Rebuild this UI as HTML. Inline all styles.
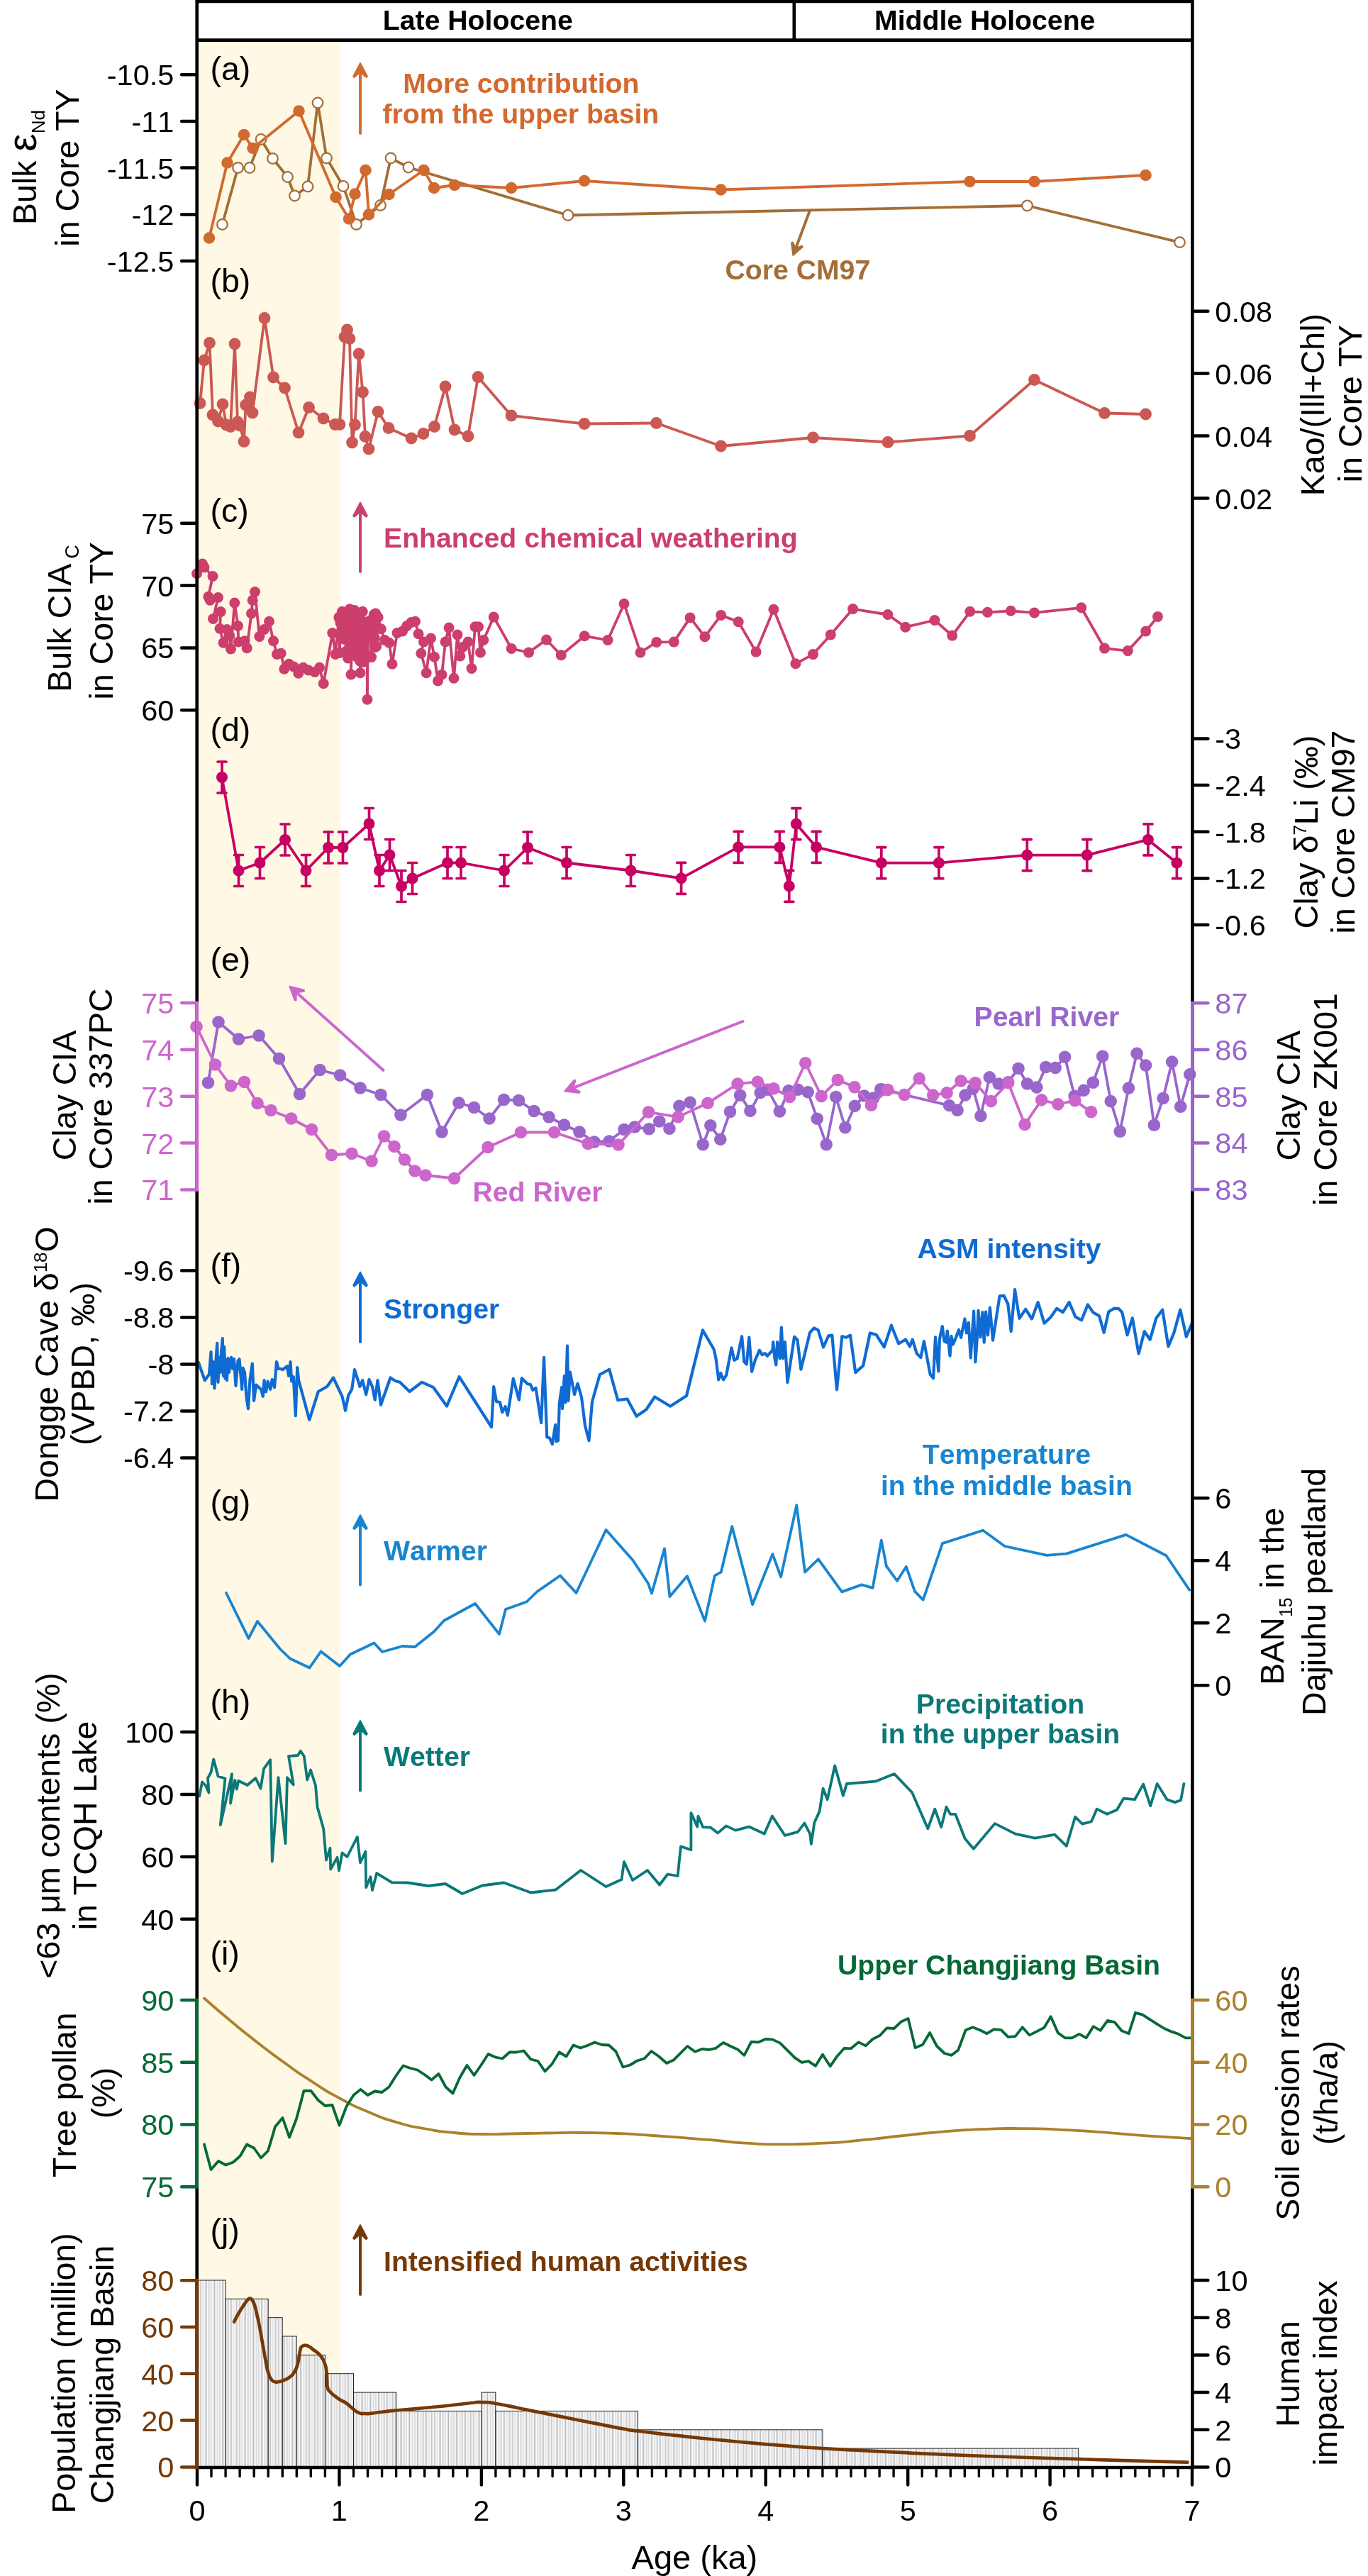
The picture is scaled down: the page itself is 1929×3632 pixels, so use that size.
<!DOCTYPE html>
<html><head><meta charset="utf-8"><title>Holocene records</title>
<style>html,body{margin:0;padding:0;background:#fff;}svg{display:block;will-change:transform;}text{font-family:"Liberation Sans",sans-serif;font-kerning:none;}</style>
</head><body>
<svg width="1929" height="3632" viewBox="0 0 1929 3632">
<rect x="0" y="0" width="1929" height="3632" fill="#fff"/>
<rect x="277.7" y="56.6" width="202.3" height="3422.4" fill="#FEF8E4"/>
<defs><pattern id="hat" width="2.2" height="8" patternUnits="userSpaceOnUse"><rect width="2.2" height="8" fill="#fafafc"/><rect x="0.8" width="0.45" height="8" fill="#949494"/></pattern></defs>
<rect x="278.0" y="3215.0" width="40.1" height="263.5" fill="url(#hat)" stroke="#1a1a1a" stroke-width="0.95"/>
<rect x="318.1" y="3241.3" width="60.1" height="237.2" fill="url(#hat)" stroke="#1a1a1a" stroke-width="0.95"/>
<rect x="378.2" y="3267.7" width="20.0" height="210.8" fill="url(#hat)" stroke="#1a1a1a" stroke-width="0.95"/>
<rect x="398.3" y="3294.0" width="20.0" height="184.5" fill="url(#hat)" stroke="#1a1a1a" stroke-width="0.95"/>
<rect x="418.3" y="3320.4" width="40.1" height="158.1" fill="url(#hat)" stroke="#1a1a1a" stroke-width="0.95"/>
<rect x="458.4" y="3346.7" width="40.1" height="131.8" fill="url(#hat)" stroke="#1a1a1a" stroke-width="0.95"/>
<rect x="498.5" y="3373.1" width="60.1" height="105.4" fill="url(#hat)" stroke="#1a1a1a" stroke-width="0.95"/>
<rect x="558.6" y="3399.4" width="120.3" height="79.1" fill="url(#hat)" stroke="#1a1a1a" stroke-width="0.95"/>
<rect x="678.9" y="3373.1" width="20.0" height="105.4" fill="url(#hat)" stroke="#1a1a1a" stroke-width="0.95"/>
<rect x="698.9" y="3399.4" width="200.4" height="79.1" fill="url(#hat)" stroke="#1a1a1a" stroke-width="0.95"/>
<rect x="899.3" y="3425.8" width="260.6" height="52.7" fill="url(#hat)" stroke="#1a1a1a" stroke-width="0.95"/>
<rect x="1159.9" y="3452.1" width="360.8" height="26.4" fill="url(#hat)" stroke="#1a1a1a" stroke-width="0.95"/>
<polyline points="313.5,316.5 335.5,236.5 352.0,236.5 368.0,196.5 384.5,223.5 405.5,249.5 415.5,276.0 434.0,263.0 448.0,145.0 460.5,223.0 484.0,262.5 502.5,316.5 536.5,289.5 551.0,223.0 576.0,236.0 801.0,303.5 1448.5,290.0 1663.5,341.6" fill="none" stroke="#A46E36" stroke-width="3.8" stroke-linejoin="round" stroke-linecap="round" />
<circle cx="313.5" cy="316.5" r="7.3" fill="#fff" stroke="#A46E36" stroke-width="2.2"/>
<circle cx="335.5" cy="236.5" r="7.3" fill="#fff" stroke="#A46E36" stroke-width="2.2"/>
<circle cx="352.0" cy="236.5" r="7.3" fill="#fff" stroke="#A46E36" stroke-width="2.2"/>
<circle cx="368.0" cy="196.5" r="7.3" fill="#fff" stroke="#A46E36" stroke-width="2.2"/>
<circle cx="384.5" cy="223.5" r="7.3" fill="#fff" stroke="#A46E36" stroke-width="2.2"/>
<circle cx="405.5" cy="249.5" r="7.3" fill="#fff" stroke="#A46E36" stroke-width="2.2"/>
<circle cx="415.5" cy="276.0" r="7.3" fill="#fff" stroke="#A46E36" stroke-width="2.2"/>
<circle cx="434.0" cy="263.0" r="7.3" fill="#fff" stroke="#A46E36" stroke-width="2.2"/>
<circle cx="448.0" cy="145.0" r="7.3" fill="#fff" stroke="#A46E36" stroke-width="2.2"/>
<circle cx="460.5" cy="223.0" r="7.3" fill="#fff" stroke="#A46E36" stroke-width="2.2"/>
<circle cx="484.0" cy="262.5" r="7.3" fill="#fff" stroke="#A46E36" stroke-width="2.2"/>
<circle cx="502.5" cy="316.5" r="7.3" fill="#fff" stroke="#A46E36" stroke-width="2.2"/>
<circle cx="536.5" cy="289.5" r="7.3" fill="#fff" stroke="#A46E36" stroke-width="2.2"/>
<circle cx="551.0" cy="223.0" r="7.3" fill="#fff" stroke="#A46E36" stroke-width="2.2"/>
<circle cx="576.0" cy="236.0" r="7.3" fill="#fff" stroke="#A46E36" stroke-width="2.2"/>
<circle cx="801.0" cy="303.5" r="7.3" fill="#fff" stroke="#A46E36" stroke-width="2.2"/>
<circle cx="1448.5" cy="290.0" r="7.3" fill="#fff" stroke="#A46E36" stroke-width="2.2"/>
<circle cx="1663.5" cy="341.6" r="7.3" fill="#fff" stroke="#A46E36" stroke-width="2.2"/>
<polyline points="295.0,335.5 320.5,229.5 344.0,190.0 356.5,209.0 421.5,156.5 473.5,278.0 492.0,308.5 500.5,273.5 515.5,240.0 520.0,302.5 548.5,274.0 597.5,240.0 612.0,265.0 641.0,261.0 721.0,265.0 824.0,255.0 1016.5,267.5 1367.5,256.0 1458.5,256.0 1615.5,247.0" fill="none" stroke="#D2692F" stroke-width="3.8" stroke-linejoin="round" stroke-linecap="round" />
<circle cx="295.0" cy="335.5" r="8.3" fill="#D2692F"/>
<circle cx="320.5" cy="229.5" r="8.3" fill="#D2692F"/>
<circle cx="344.0" cy="190.0" r="8.3" fill="#D2692F"/>
<circle cx="356.5" cy="209.0" r="8.3" fill="#D2692F"/>
<circle cx="421.5" cy="156.5" r="8.3" fill="#D2692F"/>
<circle cx="473.5" cy="278.0" r="8.3" fill="#D2692F"/>
<circle cx="492.0" cy="308.5" r="8.3" fill="#D2692F"/>
<circle cx="500.5" cy="273.5" r="8.3" fill="#D2692F"/>
<circle cx="515.5" cy="240.0" r="8.3" fill="#D2692F"/>
<circle cx="520.0" cy="302.5" r="8.3" fill="#D2692F"/>
<circle cx="548.5" cy="274.0" r="8.3" fill="#D2692F"/>
<circle cx="597.5" cy="240.0" r="8.3" fill="#D2692F"/>
<circle cx="612.0" cy="265.0" r="8.3" fill="#D2692F"/>
<circle cx="641.0" cy="261.0" r="8.3" fill="#D2692F"/>
<circle cx="721.0" cy="265.0" r="8.3" fill="#D2692F"/>
<circle cx="824.0" cy="255.0" r="8.3" fill="#D2692F"/>
<circle cx="1016.5" cy="267.5" r="8.3" fill="#D2692F"/>
<circle cx="1367.5" cy="256.0" r="8.3" fill="#D2692F"/>
<circle cx="1458.5" cy="256.0" r="8.3" fill="#D2692F"/>
<circle cx="1615.5" cy="247.0" r="8.3" fill="#D2692F"/>
<polyline points="282.0,568.5 288.0,508.0 295.5,483.5 300.0,585.0 307.5,594.0 314.0,570.0 319.0,599.0 325.0,601.5 331.0,485.0 335.0,595.0 338.5,600.0 344.0,622.5 346.5,571.0 352.5,560.0 356.0,582.0 373.0,448.5 385.5,532.0 401.5,547.0 421.0,610.0 435.5,574.5 456.0,590.0 472.5,598.5 479.0,598.5 486.0,475.0 489.5,465.0 493.0,477.5 496.5,624.0 500.5,599.0 506.0,499.0 511.5,553.0 515.0,615.5 520.0,633.0 533.0,580.5 548.0,603.5 580.0,618.0 597.0,611.5 612.5,601.5 628.0,545.0 641.0,606.0 660.0,615.0 674.0,531.5 721.0,586.0 824.0,597.5 925.5,596.5 1016.5,629.0 1146.5,617.0 1252.0,623.5 1367.5,614.5 1458.5,535.5 1557.5,582.5 1615.5,584.0" fill="none" stroke="#CB5853" stroke-width="3.8" stroke-linejoin="round" stroke-linecap="round" />
<circle cx="282.0" cy="568.5" r="8.4" fill="#CB5853"/>
<circle cx="288.0" cy="508.0" r="8.4" fill="#CB5853"/>
<circle cx="295.5" cy="483.5" r="8.4" fill="#CB5853"/>
<circle cx="300.0" cy="585.0" r="8.4" fill="#CB5853"/>
<circle cx="307.5" cy="594.0" r="8.4" fill="#CB5853"/>
<circle cx="314.0" cy="570.0" r="8.4" fill="#CB5853"/>
<circle cx="319.0" cy="599.0" r="8.4" fill="#CB5853"/>
<circle cx="325.0" cy="601.5" r="8.4" fill="#CB5853"/>
<circle cx="331.0" cy="485.0" r="8.4" fill="#CB5853"/>
<circle cx="335.0" cy="595.0" r="8.4" fill="#CB5853"/>
<circle cx="338.5" cy="600.0" r="8.4" fill="#CB5853"/>
<circle cx="344.0" cy="622.5" r="8.4" fill="#CB5853"/>
<circle cx="346.5" cy="571.0" r="8.4" fill="#CB5853"/>
<circle cx="352.5" cy="560.0" r="8.4" fill="#CB5853"/>
<circle cx="356.0" cy="582.0" r="8.4" fill="#CB5853"/>
<circle cx="373.0" cy="448.5" r="8.4" fill="#CB5853"/>
<circle cx="385.5" cy="532.0" r="8.4" fill="#CB5853"/>
<circle cx="401.5" cy="547.0" r="8.4" fill="#CB5853"/>
<circle cx="421.0" cy="610.0" r="8.4" fill="#CB5853"/>
<circle cx="435.5" cy="574.5" r="8.4" fill="#CB5853"/>
<circle cx="456.0" cy="590.0" r="8.4" fill="#CB5853"/>
<circle cx="472.5" cy="598.5" r="8.4" fill="#CB5853"/>
<circle cx="479.0" cy="598.5" r="8.4" fill="#CB5853"/>
<circle cx="486.0" cy="475.0" r="8.4" fill="#CB5853"/>
<circle cx="489.5" cy="465.0" r="8.4" fill="#CB5853"/>
<circle cx="493.0" cy="477.5" r="8.4" fill="#CB5853"/>
<circle cx="496.5" cy="624.0" r="8.4" fill="#CB5853"/>
<circle cx="500.5" cy="599.0" r="8.4" fill="#CB5853"/>
<circle cx="506.0" cy="499.0" r="8.4" fill="#CB5853"/>
<circle cx="511.5" cy="553.0" r="8.4" fill="#CB5853"/>
<circle cx="515.0" cy="615.5" r="8.4" fill="#CB5853"/>
<circle cx="520.0" cy="633.0" r="8.4" fill="#CB5853"/>
<circle cx="533.0" cy="580.5" r="8.4" fill="#CB5853"/>
<circle cx="548.0" cy="603.5" r="8.4" fill="#CB5853"/>
<circle cx="580.0" cy="618.0" r="8.4" fill="#CB5853"/>
<circle cx="597.0" cy="611.5" r="8.4" fill="#CB5853"/>
<circle cx="612.5" cy="601.5" r="8.4" fill="#CB5853"/>
<circle cx="628.0" cy="545.0" r="8.4" fill="#CB5853"/>
<circle cx="641.0" cy="606.0" r="8.4" fill="#CB5853"/>
<circle cx="660.0" cy="615.0" r="8.4" fill="#CB5853"/>
<circle cx="674.0" cy="531.5" r="8.4" fill="#CB5853"/>
<circle cx="721.0" cy="586.0" r="8.4" fill="#CB5853"/>
<circle cx="824.0" cy="597.5" r="8.4" fill="#CB5853"/>
<circle cx="925.5" cy="596.5" r="8.4" fill="#CB5853"/>
<circle cx="1016.5" cy="629.0" r="8.4" fill="#CB5853"/>
<circle cx="1146.5" cy="617.0" r="8.4" fill="#CB5853"/>
<circle cx="1252.0" cy="623.5" r="8.4" fill="#CB5853"/>
<circle cx="1367.5" cy="614.5" r="8.4" fill="#CB5853"/>
<circle cx="1458.5" cy="535.5" r="8.4" fill="#CB5853"/>
<circle cx="1557.5" cy="582.5" r="8.4" fill="#CB5853"/>
<circle cx="1615.5" cy="584.0" r="8.4" fill="#CB5853"/>
<polyline points="277.5,808.8 285.5,795.0 288.0,800.0 300.0,812.5 293.8,841.2 296.2,846.2 307.5,842.5 300.5,872.5 311.2,862.5 310.0,886.2 315.0,906.2 320.0,887.5 323.8,896.2 325.5,915.0 330.8,850.0 335.5,882.5 336.2,905.0 345.0,903.8 348.2,913.8 354.5,865.0 356.2,846.2 359.5,834.5 365.8,897.5 372.5,887.5 379.5,876.2 385.5,903.8 390.5,922.5 396.2,921.2 400.8,943.2 407.5,936.2 414.2,940.0 420.8,949.2 427.5,941.2 435.0,945.0 443.8,947.5 450.5,941.2 456.2,963.8 468.8,892.5 473.0,922.5 478.0,870.0 478.0,871.4 479.0,920.4 480.0,878.1 481.1,899.1 482.4,862.2 483.6,899.5 484.5,874.6 486.0,901.5 487.1,881.1 488.6,917.8 489.8,892.2 490.7,927.9 491.8,865.6 492.8,908.1 493.3,858.7 494.3,866.8 495.0,951.0 495.6,920.0 496.8,878.5 497.7,899.1 498.8,882.8 499.8,860.5 500.0,908.3 501.3,875.5 502.4,925.6 503.8,868.8 505.1,915.9 506.6,884.3 507.7,932.3 508.0,948.8 508.7,874.4 510.1,902.5 511.3,862.3 511.5,933.6 512.7,924.5 514.0,889.0 515.1,922.0 516.4,879.6 517.7,927.2 517.9,986.2 519.2,876.2 520.6,899.2 522.0,881.7 523.6,926.6 524.7,873.3 526.0,897.8 527.3,866.4 528.2,899.1 529.0,912.5 529.7,865.1 530.8,911.1 533.1,870.4 537.2,886.8 542.5,902.5 548.8,906.2 553.0,936.2 560.0,892.5 567.5,890.0 573.8,882.5 580.0,877.5 585.5,876.2 590.0,893.8 597.5,905.0 593.8,921.2 601.2,948.8 607.5,900.0 612.5,926.2 617.5,960.0 623.0,951.2 628.0,905.0 633.0,885.0 640.0,956.2 645.0,895.0 648.8,925.0 652.5,912.5 660.0,905.0 665.0,942.5 670.0,883.8 674.5,883.8 677.5,920.0 681.8,902.5 696.2,870.0 721.2,914.5 745.5,920.0 770.5,902.0 791.2,923.8 824.2,896.8 857.0,902.5 880.0,851.2 903.0,920.0 925.7,905.4 950.3,905.1 973.1,870.9 993.9,897.8 1016.7,867.4 1041.2,876.7 1066.1,919.1 1090.9,859.2 1121.9,935.8 1146.5,922.6 1171.3,894.9 1202.6,858.6 1251.8,866.5 1276.7,884.2 1317.9,874.5 1342.7,896.1 1367.8,862.3 1392.5,863.3 1425.3,861.3 1458.5,863.9 1524.7,856.8 1557.5,914.1 1590.3,917.6 1615.7,890.0 1632.5,869.4" fill="none" stroke="#CC3E6C" stroke-width="3.8" stroke-linejoin="round" stroke-linecap="round" />
<circle cx="277.5" cy="808.8" r="7.5" fill="#CC3E6C"/>
<circle cx="285.5" cy="795.0" r="7.5" fill="#CC3E6C"/>
<circle cx="288.0" cy="800.0" r="7.5" fill="#CC3E6C"/>
<circle cx="300.0" cy="812.5" r="7.5" fill="#CC3E6C"/>
<circle cx="293.8" cy="841.2" r="7.5" fill="#CC3E6C"/>
<circle cx="296.2" cy="846.2" r="7.5" fill="#CC3E6C"/>
<circle cx="307.5" cy="842.5" r="7.5" fill="#CC3E6C"/>
<circle cx="300.5" cy="872.5" r="7.5" fill="#CC3E6C"/>
<circle cx="311.2" cy="862.5" r="7.5" fill="#CC3E6C"/>
<circle cx="310.0" cy="886.2" r="7.5" fill="#CC3E6C"/>
<circle cx="315.0" cy="906.2" r="7.5" fill="#CC3E6C"/>
<circle cx="320.0" cy="887.5" r="7.5" fill="#CC3E6C"/>
<circle cx="323.8" cy="896.2" r="7.5" fill="#CC3E6C"/>
<circle cx="325.5" cy="915.0" r="7.5" fill="#CC3E6C"/>
<circle cx="330.8" cy="850.0" r="7.5" fill="#CC3E6C"/>
<circle cx="335.5" cy="882.5" r="7.5" fill="#CC3E6C"/>
<circle cx="336.2" cy="905.0" r="7.5" fill="#CC3E6C"/>
<circle cx="345.0" cy="903.8" r="7.5" fill="#CC3E6C"/>
<circle cx="348.2" cy="913.8" r="7.5" fill="#CC3E6C"/>
<circle cx="354.5" cy="865.0" r="7.5" fill="#CC3E6C"/>
<circle cx="356.2" cy="846.2" r="7.5" fill="#CC3E6C"/>
<circle cx="359.5" cy="834.5" r="7.5" fill="#CC3E6C"/>
<circle cx="365.8" cy="897.5" r="7.5" fill="#CC3E6C"/>
<circle cx="372.5" cy="887.5" r="7.5" fill="#CC3E6C"/>
<circle cx="379.5" cy="876.2" r="7.5" fill="#CC3E6C"/>
<circle cx="385.5" cy="903.8" r="7.5" fill="#CC3E6C"/>
<circle cx="390.5" cy="922.5" r="7.5" fill="#CC3E6C"/>
<circle cx="396.2" cy="921.2" r="7.5" fill="#CC3E6C"/>
<circle cx="400.8" cy="943.2" r="7.5" fill="#CC3E6C"/>
<circle cx="407.5" cy="936.2" r="7.5" fill="#CC3E6C"/>
<circle cx="414.2" cy="940.0" r="7.5" fill="#CC3E6C"/>
<circle cx="420.8" cy="949.2" r="7.5" fill="#CC3E6C"/>
<circle cx="427.5" cy="941.2" r="7.5" fill="#CC3E6C"/>
<circle cx="435.0" cy="945.0" r="7.5" fill="#CC3E6C"/>
<circle cx="443.8" cy="947.5" r="7.5" fill="#CC3E6C"/>
<circle cx="450.5" cy="941.2" r="7.5" fill="#CC3E6C"/>
<circle cx="456.2" cy="963.8" r="7.5" fill="#CC3E6C"/>
<circle cx="468.8" cy="892.5" r="7.5" fill="#CC3E6C"/>
<circle cx="473.0" cy="922.5" r="7.5" fill="#CC3E6C"/>
<circle cx="478.0" cy="870.0" r="7.5" fill="#CC3E6C"/>
<circle cx="478.0" cy="871.4" r="7.5" fill="#CC3E6C"/>
<circle cx="479.0" cy="920.4" r="7.5" fill="#CC3E6C"/>
<circle cx="480.0" cy="878.1" r="7.5" fill="#CC3E6C"/>
<circle cx="481.1" cy="899.1" r="7.5" fill="#CC3E6C"/>
<circle cx="482.4" cy="862.2" r="7.5" fill="#CC3E6C"/>
<circle cx="483.6" cy="899.5" r="7.5" fill="#CC3E6C"/>
<circle cx="484.5" cy="874.6" r="7.5" fill="#CC3E6C"/>
<circle cx="486.0" cy="901.5" r="7.5" fill="#CC3E6C"/>
<circle cx="487.1" cy="881.1" r="7.5" fill="#CC3E6C"/>
<circle cx="488.6" cy="917.8" r="7.5" fill="#CC3E6C"/>
<circle cx="489.8" cy="892.2" r="7.5" fill="#CC3E6C"/>
<circle cx="490.7" cy="927.9" r="7.5" fill="#CC3E6C"/>
<circle cx="491.8" cy="865.6" r="7.5" fill="#CC3E6C"/>
<circle cx="492.8" cy="908.1" r="7.5" fill="#CC3E6C"/>
<circle cx="493.3" cy="858.7" r="7.5" fill="#CC3E6C"/>
<circle cx="494.3" cy="866.8" r="7.5" fill="#CC3E6C"/>
<circle cx="495.0" cy="951.0" r="7.5" fill="#CC3E6C"/>
<circle cx="495.6" cy="920.0" r="7.5" fill="#CC3E6C"/>
<circle cx="496.8" cy="878.5" r="7.5" fill="#CC3E6C"/>
<circle cx="497.7" cy="899.1" r="7.5" fill="#CC3E6C"/>
<circle cx="498.8" cy="882.8" r="7.5" fill="#CC3E6C"/>
<circle cx="499.8" cy="860.5" r="7.5" fill="#CC3E6C"/>
<circle cx="500.0" cy="908.3" r="7.5" fill="#CC3E6C"/>
<circle cx="501.3" cy="875.5" r="7.5" fill="#CC3E6C"/>
<circle cx="502.4" cy="925.6" r="7.5" fill="#CC3E6C"/>
<circle cx="503.8" cy="868.8" r="7.5" fill="#CC3E6C"/>
<circle cx="505.1" cy="915.9" r="7.5" fill="#CC3E6C"/>
<circle cx="506.6" cy="884.3" r="7.5" fill="#CC3E6C"/>
<circle cx="507.7" cy="932.3" r="7.5" fill="#CC3E6C"/>
<circle cx="508.0" cy="948.8" r="7.5" fill="#CC3E6C"/>
<circle cx="508.7" cy="874.4" r="7.5" fill="#CC3E6C"/>
<circle cx="510.1" cy="902.5" r="7.5" fill="#CC3E6C"/>
<circle cx="511.3" cy="862.3" r="7.5" fill="#CC3E6C"/>
<circle cx="511.5" cy="933.6" r="7.5" fill="#CC3E6C"/>
<circle cx="512.7" cy="924.5" r="7.5" fill="#CC3E6C"/>
<circle cx="514.0" cy="889.0" r="7.5" fill="#CC3E6C"/>
<circle cx="515.1" cy="922.0" r="7.5" fill="#CC3E6C"/>
<circle cx="516.4" cy="879.6" r="7.5" fill="#CC3E6C"/>
<circle cx="517.7" cy="927.2" r="7.5" fill="#CC3E6C"/>
<circle cx="517.9" cy="986.2" r="7.5" fill="#CC3E6C"/>
<circle cx="519.2" cy="876.2" r="7.5" fill="#CC3E6C"/>
<circle cx="520.6" cy="899.2" r="7.5" fill="#CC3E6C"/>
<circle cx="522.0" cy="881.7" r="7.5" fill="#CC3E6C"/>
<circle cx="523.6" cy="926.6" r="7.5" fill="#CC3E6C"/>
<circle cx="524.7" cy="873.3" r="7.5" fill="#CC3E6C"/>
<circle cx="526.0" cy="897.8" r="7.5" fill="#CC3E6C"/>
<circle cx="527.3" cy="866.4" r="7.5" fill="#CC3E6C"/>
<circle cx="528.2" cy="899.1" r="7.5" fill="#CC3E6C"/>
<circle cx="529.0" cy="912.5" r="7.5" fill="#CC3E6C"/>
<circle cx="529.7" cy="865.1" r="7.5" fill="#CC3E6C"/>
<circle cx="530.8" cy="911.1" r="7.5" fill="#CC3E6C"/>
<circle cx="533.1" cy="870.4" r="7.5" fill="#CC3E6C"/>
<circle cx="537.2" cy="886.8" r="7.5" fill="#CC3E6C"/>
<circle cx="542.5" cy="902.5" r="7.5" fill="#CC3E6C"/>
<circle cx="548.8" cy="906.2" r="7.5" fill="#CC3E6C"/>
<circle cx="553.0" cy="936.2" r="7.5" fill="#CC3E6C"/>
<circle cx="560.0" cy="892.5" r="7.5" fill="#CC3E6C"/>
<circle cx="567.5" cy="890.0" r="7.5" fill="#CC3E6C"/>
<circle cx="573.8" cy="882.5" r="7.5" fill="#CC3E6C"/>
<circle cx="580.0" cy="877.5" r="7.5" fill="#CC3E6C"/>
<circle cx="585.5" cy="876.2" r="7.5" fill="#CC3E6C"/>
<circle cx="590.0" cy="893.8" r="7.5" fill="#CC3E6C"/>
<circle cx="597.5" cy="905.0" r="7.5" fill="#CC3E6C"/>
<circle cx="593.8" cy="921.2" r="7.5" fill="#CC3E6C"/>
<circle cx="601.2" cy="948.8" r="7.5" fill="#CC3E6C"/>
<circle cx="607.5" cy="900.0" r="7.5" fill="#CC3E6C"/>
<circle cx="612.5" cy="926.2" r="7.5" fill="#CC3E6C"/>
<circle cx="617.5" cy="960.0" r="7.5" fill="#CC3E6C"/>
<circle cx="623.0" cy="951.2" r="7.5" fill="#CC3E6C"/>
<circle cx="628.0" cy="905.0" r="7.5" fill="#CC3E6C"/>
<circle cx="633.0" cy="885.0" r="7.5" fill="#CC3E6C"/>
<circle cx="640.0" cy="956.2" r="7.5" fill="#CC3E6C"/>
<circle cx="645.0" cy="895.0" r="7.5" fill="#CC3E6C"/>
<circle cx="648.8" cy="925.0" r="7.5" fill="#CC3E6C"/>
<circle cx="652.5" cy="912.5" r="7.5" fill="#CC3E6C"/>
<circle cx="660.0" cy="905.0" r="7.5" fill="#CC3E6C"/>
<circle cx="665.0" cy="942.5" r="7.5" fill="#CC3E6C"/>
<circle cx="670.0" cy="883.8" r="7.5" fill="#CC3E6C"/>
<circle cx="674.5" cy="883.8" r="7.5" fill="#CC3E6C"/>
<circle cx="677.5" cy="920.0" r="7.5" fill="#CC3E6C"/>
<circle cx="681.8" cy="902.5" r="7.5" fill="#CC3E6C"/>
<circle cx="696.2" cy="870.0" r="7.5" fill="#CC3E6C"/>
<circle cx="721.2" cy="914.5" r="7.5" fill="#CC3E6C"/>
<circle cx="745.5" cy="920.0" r="7.5" fill="#CC3E6C"/>
<circle cx="770.5" cy="902.0" r="7.5" fill="#CC3E6C"/>
<circle cx="791.2" cy="923.8" r="7.5" fill="#CC3E6C"/>
<circle cx="824.2" cy="896.8" r="7.5" fill="#CC3E6C"/>
<circle cx="857.0" cy="902.5" r="7.5" fill="#CC3E6C"/>
<circle cx="880.0" cy="851.2" r="7.5" fill="#CC3E6C"/>
<circle cx="903.0" cy="920.0" r="7.5" fill="#CC3E6C"/>
<circle cx="925.7" cy="905.4" r="7.5" fill="#CC3E6C"/>
<circle cx="950.3" cy="905.1" r="7.5" fill="#CC3E6C"/>
<circle cx="973.1" cy="870.9" r="7.5" fill="#CC3E6C"/>
<circle cx="993.9" cy="897.8" r="7.5" fill="#CC3E6C"/>
<circle cx="1016.7" cy="867.4" r="7.5" fill="#CC3E6C"/>
<circle cx="1041.2" cy="876.7" r="7.5" fill="#CC3E6C"/>
<circle cx="1066.1" cy="919.1" r="7.5" fill="#CC3E6C"/>
<circle cx="1090.9" cy="859.2" r="7.5" fill="#CC3E6C"/>
<circle cx="1121.9" cy="935.8" r="7.5" fill="#CC3E6C"/>
<circle cx="1146.5" cy="922.6" r="7.5" fill="#CC3E6C"/>
<circle cx="1171.3" cy="894.9" r="7.5" fill="#CC3E6C"/>
<circle cx="1202.6" cy="858.6" r="7.5" fill="#CC3E6C"/>
<circle cx="1251.8" cy="866.5" r="7.5" fill="#CC3E6C"/>
<circle cx="1276.7" cy="884.2" r="7.5" fill="#CC3E6C"/>
<circle cx="1317.9" cy="874.5" r="7.5" fill="#CC3E6C"/>
<circle cx="1342.7" cy="896.1" r="7.5" fill="#CC3E6C"/>
<circle cx="1367.8" cy="862.3" r="7.5" fill="#CC3E6C"/>
<circle cx="1392.5" cy="863.3" r="7.5" fill="#CC3E6C"/>
<circle cx="1425.3" cy="861.3" r="7.5" fill="#CC3E6C"/>
<circle cx="1458.5" cy="863.9" r="7.5" fill="#CC3E6C"/>
<circle cx="1524.7" cy="856.8" r="7.5" fill="#CC3E6C"/>
<circle cx="1557.5" cy="914.1" r="7.5" fill="#CC3E6C"/>
<circle cx="1590.3" cy="917.6" r="7.5" fill="#CC3E6C"/>
<circle cx="1615.7" cy="890.0" r="7.5" fill="#CC3E6C"/>
<circle cx="1632.5" cy="869.4" r="7.5" fill="#CC3E6C"/>
<path d="M313.0 1074.0 V1118.0 M307.0 1074.0 H319.0 M307.0 1118.0 H319.0" stroke="#C70063" stroke-width="3.7" stroke-linecap="round" fill="none"/>
<path d="M336.5 1205.5 V1249.5 M330.5 1205.5 H342.5 M330.5 1249.5 H342.5" stroke="#C70063" stroke-width="3.7" stroke-linecap="round" fill="none"/>
<path d="M366.5 1194.5 V1238.5 M360.5 1194.5 H372.5 M360.5 1238.5 H372.5" stroke="#C70063" stroke-width="3.7" stroke-linecap="round" fill="none"/>
<path d="M402.0 1162.0 V1206.0 M396.0 1162.0 H408.0 M396.0 1206.0 H408.0" stroke="#C70063" stroke-width="3.7" stroke-linecap="round" fill="none"/>
<path d="M431.5 1205.5 V1249.5 M425.5 1205.5 H437.5 M425.5 1249.5 H437.5" stroke="#C70063" stroke-width="3.7" stroke-linecap="round" fill="none"/>
<path d="M463.0 1173.0 V1217.0 M457.0 1173.0 H469.0 M457.0 1217.0 H469.0" stroke="#C70063" stroke-width="3.7" stroke-linecap="round" fill="none"/>
<path d="M483.5 1173.0 V1217.0 M477.5 1173.0 H489.5 M477.5 1217.0 H489.5" stroke="#C70063" stroke-width="3.7" stroke-linecap="round" fill="none"/>
<path d="M520.5 1139.5 V1183.5 M514.5 1139.5 H526.5 M514.5 1183.5 H526.5" stroke="#C70063" stroke-width="3.7" stroke-linecap="round" fill="none"/>
<path d="M535.0 1205.5 V1249.5 M529.0 1205.5 H541.0 M529.0 1249.5 H541.0" stroke="#C70063" stroke-width="3.7" stroke-linecap="round" fill="none"/>
<path d="M549.5 1183.5 V1227.5 M543.5 1183.5 H555.5 M543.5 1227.5 H555.5" stroke="#C70063" stroke-width="3.7" stroke-linecap="round" fill="none"/>
<path d="M566.0 1227.5 V1271.5 M560.0 1227.5 H572.0 M560.0 1271.5 H572.0" stroke="#C70063" stroke-width="3.7" stroke-linecap="round" fill="none"/>
<path d="M581.5 1216.5 V1260.5 M575.5 1216.5 H587.5 M575.5 1260.5 H587.5" stroke="#C70063" stroke-width="3.7" stroke-linecap="round" fill="none"/>
<path d="M631.0 1194.5 V1238.5 M625.0 1194.5 H637.0 M625.0 1238.5 H637.0" stroke="#C70063" stroke-width="3.7" stroke-linecap="round" fill="none"/>
<path d="M650.0 1194.5 V1238.5 M644.0 1194.5 H656.0 M644.0 1238.5 H656.0" stroke="#C70063" stroke-width="3.7" stroke-linecap="round" fill="none"/>
<path d="M711.0 1205.5 V1249.5 M705.0 1205.5 H717.0 M705.0 1249.5 H717.0" stroke="#C70063" stroke-width="3.7" stroke-linecap="round" fill="none"/>
<path d="M744.0 1173.0 V1217.0 M738.0 1173.0 H750.0 M738.0 1217.0 H750.0" stroke="#C70063" stroke-width="3.7" stroke-linecap="round" fill="none"/>
<path d="M799.0 1194.5 V1238.5 M793.0 1194.5 H805.0 M793.0 1238.5 H805.0" stroke="#C70063" stroke-width="3.7" stroke-linecap="round" fill="none"/>
<path d="M889.5 1205.5 V1249.5 M883.5 1205.5 H895.5 M883.5 1249.5 H895.5" stroke="#C70063" stroke-width="3.7" stroke-linecap="round" fill="none"/>
<path d="M960.6 1216.3 V1260.3 M954.6 1216.3 H966.6 M954.6 1260.3 H966.6" stroke="#C70063" stroke-width="3.7" stroke-linecap="round" fill="none"/>
<path d="M1041.1 1172.4 V1216.4 M1035.1 1172.4 H1047.1 M1035.1 1216.4 H1047.1" stroke="#C70063" stroke-width="3.7" stroke-linecap="round" fill="none"/>
<path d="M1099.4 1172.4 V1216.4 M1093.4 1172.4 H1105.4 M1093.4 1216.4 H1105.4" stroke="#C70063" stroke-width="3.7" stroke-linecap="round" fill="none"/>
<path d="M1112.8 1227.4 V1271.4 M1106.8 1227.4 H1118.8 M1106.8 1271.4 H1118.8" stroke="#C70063" stroke-width="3.7" stroke-linecap="round" fill="none"/>
<path d="M1122.8 1139.7 V1183.7 M1116.8 1139.7 H1128.8 M1116.8 1183.7 H1128.8" stroke="#C70063" stroke-width="3.7" stroke-linecap="round" fill="none"/>
<path d="M1151.1 1172.4 V1216.4 M1145.1 1172.4 H1157.1 M1145.1 1216.4 H1157.1" stroke="#C70063" stroke-width="3.7" stroke-linecap="round" fill="none"/>
<path d="M1242.8 1194.7 V1238.7 M1236.8 1194.7 H1248.8 M1236.8 1238.7 H1248.8" stroke="#C70063" stroke-width="3.7" stroke-linecap="round" fill="none"/>
<path d="M1323.9 1194.7 V1238.7 M1317.9 1194.7 H1329.9 M1317.9 1238.7 H1329.9" stroke="#C70063" stroke-width="3.7" stroke-linecap="round" fill="none"/>
<path d="M1448.3 1183.6 V1227.6 M1442.3 1183.6 H1454.3 M1442.3 1227.6 H1454.3" stroke="#C70063" stroke-width="3.7" stroke-linecap="round" fill="none"/>
<path d="M1532.8 1183.6 V1227.6 M1526.8 1183.6 H1538.8 M1526.8 1227.6 H1538.8" stroke="#C70063" stroke-width="3.7" stroke-linecap="round" fill="none"/>
<path d="M1618.9 1161.9 V1205.9 M1612.9 1161.9 H1624.9 M1612.9 1205.9 H1624.9" stroke="#C70063" stroke-width="3.7" stroke-linecap="round" fill="none"/>
<path d="M1659.4 1194.7 V1238.7 M1653.4 1194.7 H1665.4 M1653.4 1238.7 H1665.4" stroke="#C70063" stroke-width="3.7" stroke-linecap="round" fill="none"/>
<polyline points="313.0,1096.0 336.5,1227.5 366.5,1216.5 402.0,1184.0 431.5,1227.5 463.0,1195.0 483.5,1195.0 520.5,1161.5 535.0,1227.5 549.5,1205.5 566.0,1249.5 581.5,1238.5 631.0,1216.5 650.0,1216.5 711.0,1227.5 744.0,1195.0 799.0,1216.5 889.5,1227.5 960.6,1238.3 1041.1,1194.4 1099.4,1194.4 1112.8,1249.4 1122.8,1161.7 1151.1,1194.4 1242.8,1216.7 1323.9,1216.7 1448.3,1205.6 1532.8,1205.6 1618.9,1183.9 1659.4,1216.7" fill="none" stroke="#C70063" stroke-width="3.8" stroke-linejoin="round" stroke-linecap="round" />
<circle cx="313.0" cy="1096.0" r="8.0" fill="#C70063"/>
<circle cx="336.5" cy="1227.5" r="8.0" fill="#C70063"/>
<circle cx="366.5" cy="1216.5" r="8.0" fill="#C70063"/>
<circle cx="402.0" cy="1184.0" r="8.0" fill="#C70063"/>
<circle cx="431.5" cy="1227.5" r="8.0" fill="#C70063"/>
<circle cx="463.0" cy="1195.0" r="8.0" fill="#C70063"/>
<circle cx="483.5" cy="1195.0" r="8.0" fill="#C70063"/>
<circle cx="520.5" cy="1161.5" r="8.0" fill="#C70063"/>
<circle cx="535.0" cy="1227.5" r="8.0" fill="#C70063"/>
<circle cx="549.5" cy="1205.5" r="8.0" fill="#C70063"/>
<circle cx="566.0" cy="1249.5" r="8.0" fill="#C70063"/>
<circle cx="581.5" cy="1238.5" r="8.0" fill="#C70063"/>
<circle cx="631.0" cy="1216.5" r="8.0" fill="#C70063"/>
<circle cx="650.0" cy="1216.5" r="8.0" fill="#C70063"/>
<circle cx="711.0" cy="1227.5" r="8.0" fill="#C70063"/>
<circle cx="744.0" cy="1195.0" r="8.0" fill="#C70063"/>
<circle cx="799.0" cy="1216.5" r="8.0" fill="#C70063"/>
<circle cx="889.5" cy="1227.5" r="8.0" fill="#C70063"/>
<circle cx="960.6" cy="1238.3" r="8.0" fill="#C70063"/>
<circle cx="1041.1" cy="1194.4" r="8.0" fill="#C70063"/>
<circle cx="1099.4" cy="1194.4" r="8.0" fill="#C70063"/>
<circle cx="1112.8" cy="1249.4" r="8.0" fill="#C70063"/>
<circle cx="1122.8" cy="1161.7" r="8.0" fill="#C70063"/>
<circle cx="1151.1" cy="1194.4" r="8.0" fill="#C70063"/>
<circle cx="1242.8" cy="1216.7" r="8.0" fill="#C70063"/>
<circle cx="1323.9" cy="1216.7" r="8.0" fill="#C70063"/>
<circle cx="1448.3" cy="1205.6" r="8.0" fill="#C70063"/>
<circle cx="1532.8" cy="1205.6" r="8.0" fill="#C70063"/>
<circle cx="1618.9" cy="1183.9" r="8.0" fill="#C70063"/>
<circle cx="1659.4" cy="1216.7" r="8.0" fill="#C70063"/>
<polyline points="293.5,1526.5 308.0,1441.0 336.5,1465.0 365.0,1460.0 393.5,1492.5 422.5,1542.5 451.0,1508.5 479.5,1516.0 508.0,1534.0 537.0,1543.5 565.0,1572.0 602.5,1543.5 623.0,1596.0 647.0,1555.0 668.5,1561.5 690.0,1577.0 710.5,1550.5 731.5,1551.5 753.0,1566.5 774.0,1575.0 795.5,1586.0 817.0,1596.0 838.0,1610.0 859.0,1609.0 880.0,1592.5 895.0,1589.0 915.2,1591.8 929.8,1581.0 943.9,1591.2 957.9,1559.4 973.1,1554.4 991.2,1613.7 1001.8,1586.8 1015.8,1606.4 1029.5,1567.5 1043.6,1544.2 1057.9,1566.4 1072.2,1540.6 1082.7,1536.3 1099.4,1567.0 1112.0,1537.7 1125.1,1536.3 1139.2,1539.8 1152.3,1577.2 1165.2,1613.7 1178.7,1546.5 1191.8,1589.8 1205.3,1559.4 1218.7,1545.0 1231.9,1548.0 1245.0,1536.3 1241.7,1535.7 1338.5,1558.6 1350.0,1565.3 1361.0,1544.1 1372.1,1535.1 1382.9,1573.4 1395.3,1518.9 1408.1,1528.0 1421.6,1525.7 1436.0,1506.5 1448.5,1528.0 1461.9,1533.1 1474.7,1504.5 1488.2,1505.5 1501.6,1490.3 1515.1,1545.2 1528.2,1537.4 1541.3,1526.3 1554.7,1489.3 1566.2,1552.6 1579.3,1595.3 1591.4,1534.1 1603.1,1485.3 1615.6,1502.1 1627.4,1586.2 1640.1,1548.5 1652.6,1497.1 1664.7,1560.3 1677.8,1514.9" fill="none" stroke="#9966CC" stroke-width="3.8" stroke-linejoin="round" stroke-linecap="round" />
<circle cx="293.5" cy="1526.5" r="8.8" fill="#9966CC"/>
<circle cx="308.0" cy="1441.0" r="8.8" fill="#9966CC"/>
<circle cx="336.5" cy="1465.0" r="8.8" fill="#9966CC"/>
<circle cx="365.0" cy="1460.0" r="8.8" fill="#9966CC"/>
<circle cx="393.5" cy="1492.5" r="8.8" fill="#9966CC"/>
<circle cx="422.5" cy="1542.5" r="8.8" fill="#9966CC"/>
<circle cx="451.0" cy="1508.5" r="8.8" fill="#9966CC"/>
<circle cx="479.5" cy="1516.0" r="8.8" fill="#9966CC"/>
<circle cx="508.0" cy="1534.0" r="8.8" fill="#9966CC"/>
<circle cx="537.0" cy="1543.5" r="8.8" fill="#9966CC"/>
<circle cx="565.0" cy="1572.0" r="8.8" fill="#9966CC"/>
<circle cx="602.5" cy="1543.5" r="8.8" fill="#9966CC"/>
<circle cx="623.0" cy="1596.0" r="8.8" fill="#9966CC"/>
<circle cx="647.0" cy="1555.0" r="8.8" fill="#9966CC"/>
<circle cx="668.5" cy="1561.5" r="8.8" fill="#9966CC"/>
<circle cx="690.0" cy="1577.0" r="8.8" fill="#9966CC"/>
<circle cx="710.5" cy="1550.5" r="8.8" fill="#9966CC"/>
<circle cx="731.5" cy="1551.5" r="8.8" fill="#9966CC"/>
<circle cx="753.0" cy="1566.5" r="8.8" fill="#9966CC"/>
<circle cx="774.0" cy="1575.0" r="8.8" fill="#9966CC"/>
<circle cx="795.5" cy="1586.0" r="8.8" fill="#9966CC"/>
<circle cx="817.0" cy="1596.0" r="8.8" fill="#9966CC"/>
<circle cx="838.0" cy="1610.0" r="8.8" fill="#9966CC"/>
<circle cx="859.0" cy="1609.0" r="8.8" fill="#9966CC"/>
<circle cx="880.0" cy="1592.5" r="8.8" fill="#9966CC"/>
<circle cx="895.0" cy="1589.0" r="8.8" fill="#9966CC"/>
<circle cx="915.2" cy="1591.8" r="8.8" fill="#9966CC"/>
<circle cx="929.8" cy="1581.0" r="8.8" fill="#9966CC"/>
<circle cx="943.9" cy="1591.2" r="8.8" fill="#9966CC"/>
<circle cx="957.9" cy="1559.4" r="8.8" fill="#9966CC"/>
<circle cx="973.1" cy="1554.4" r="8.8" fill="#9966CC"/>
<circle cx="991.2" cy="1613.7" r="8.8" fill="#9966CC"/>
<circle cx="1001.8" cy="1586.8" r="8.8" fill="#9966CC"/>
<circle cx="1015.8" cy="1606.4" r="8.8" fill="#9966CC"/>
<circle cx="1029.5" cy="1567.5" r="8.8" fill="#9966CC"/>
<circle cx="1043.6" cy="1544.2" r="8.8" fill="#9966CC"/>
<circle cx="1057.9" cy="1566.4" r="8.8" fill="#9966CC"/>
<circle cx="1072.2" cy="1540.6" r="8.8" fill="#9966CC"/>
<circle cx="1082.7" cy="1536.3" r="8.8" fill="#9966CC"/>
<circle cx="1099.4" cy="1567.0" r="8.8" fill="#9966CC"/>
<circle cx="1112.0" cy="1537.7" r="8.8" fill="#9966CC"/>
<circle cx="1125.1" cy="1536.3" r="8.8" fill="#9966CC"/>
<circle cx="1139.2" cy="1539.8" r="8.8" fill="#9966CC"/>
<circle cx="1152.3" cy="1577.2" r="8.8" fill="#9966CC"/>
<circle cx="1165.2" cy="1613.7" r="8.8" fill="#9966CC"/>
<circle cx="1178.7" cy="1546.5" r="8.8" fill="#9966CC"/>
<circle cx="1191.8" cy="1589.8" r="8.8" fill="#9966CC"/>
<circle cx="1205.3" cy="1559.4" r="8.8" fill="#9966CC"/>
<circle cx="1218.7" cy="1545.0" r="8.8" fill="#9966CC"/>
<circle cx="1231.9" cy="1548.0" r="8.8" fill="#9966CC"/>
<circle cx="1245.0" cy="1536.3" r="8.8" fill="#9966CC"/>
<circle cx="1241.7" cy="1535.7" r="8.8" fill="#9966CC"/>
<circle cx="1338.5" cy="1558.6" r="8.8" fill="#9966CC"/>
<circle cx="1350.0" cy="1565.3" r="8.8" fill="#9966CC"/>
<circle cx="1361.0" cy="1544.1" r="8.8" fill="#9966CC"/>
<circle cx="1372.1" cy="1535.1" r="8.8" fill="#9966CC"/>
<circle cx="1382.9" cy="1573.4" r="8.8" fill="#9966CC"/>
<circle cx="1395.3" cy="1518.9" r="8.8" fill="#9966CC"/>
<circle cx="1408.1" cy="1528.0" r="8.8" fill="#9966CC"/>
<circle cx="1421.6" cy="1525.7" r="8.8" fill="#9966CC"/>
<circle cx="1436.0" cy="1506.5" r="8.8" fill="#9966CC"/>
<circle cx="1448.5" cy="1528.0" r="8.8" fill="#9966CC"/>
<circle cx="1461.9" cy="1533.1" r="8.8" fill="#9966CC"/>
<circle cx="1474.7" cy="1504.5" r="8.8" fill="#9966CC"/>
<circle cx="1488.2" cy="1505.5" r="8.8" fill="#9966CC"/>
<circle cx="1501.6" cy="1490.3" r="8.8" fill="#9966CC"/>
<circle cx="1515.1" cy="1545.2" r="8.8" fill="#9966CC"/>
<circle cx="1528.2" cy="1537.4" r="8.8" fill="#9966CC"/>
<circle cx="1541.3" cy="1526.3" r="8.8" fill="#9966CC"/>
<circle cx="1554.7" cy="1489.3" r="8.8" fill="#9966CC"/>
<circle cx="1566.2" cy="1552.6" r="8.8" fill="#9966CC"/>
<circle cx="1579.3" cy="1595.3" r="8.8" fill="#9966CC"/>
<circle cx="1591.4" cy="1534.1" r="8.8" fill="#9966CC"/>
<circle cx="1603.1" cy="1485.3" r="8.8" fill="#9966CC"/>
<circle cx="1615.6" cy="1502.1" r="8.8" fill="#9966CC"/>
<circle cx="1627.4" cy="1586.2" r="8.8" fill="#9966CC"/>
<circle cx="1640.1" cy="1548.5" r="8.8" fill="#9966CC"/>
<circle cx="1652.6" cy="1497.1" r="8.8" fill="#9966CC"/>
<circle cx="1664.7" cy="1560.3" r="8.8" fill="#9966CC"/>
<circle cx="1677.8" cy="1514.9" r="8.8" fill="#9966CC"/>
<polyline points="277.0,1447.5 303.5,1501.0 325.5,1531.0 344.5,1525.5 363.0,1555.5 382.0,1565.5 410.5,1577.0 439.5,1592.5 467.5,1628.5 496.0,1626.5 524.0,1637.0 541.5,1602.0 556.0,1616.5 570.5,1635.0 585.0,1651.0 600.0,1657.0 640.5,1661.5 688.0,1617.5 734.5,1596.5 781.5,1596.5 829.0,1612.5 872.0,1614.0 914.5,1568.0 956.1,1574.9 998.0,1555.3 1040.1,1528.1 1068.4,1525.4 1090.9,1534.8 1113.5,1546.5 1135.7,1498.8 1158.2,1545.6 1181.3,1522.5 1205.0,1532.7 1228.4,1558.2 1251.8,1536.5 1275.3,1543.5 1296.2,1520.6 1315.7,1544.1 1335.2,1540.8 1355.0,1524.0 1375.2,1526.7 1397.4,1552.6 1421.6,1526.7 1445.1,1585.5 1468.6,1550.9 1491.8,1556.9 1515.7,1551.9 1538.6,1567.7" fill="none" stroke="#CC66CC" stroke-width="3.8" stroke-linejoin="round" stroke-linecap="round" />
<circle cx="277.0" cy="1447.5" r="8.8" fill="#CC66CC"/>
<circle cx="303.5" cy="1501.0" r="8.8" fill="#CC66CC"/>
<circle cx="325.5" cy="1531.0" r="8.8" fill="#CC66CC"/>
<circle cx="344.5" cy="1525.5" r="8.8" fill="#CC66CC"/>
<circle cx="363.0" cy="1555.5" r="8.8" fill="#CC66CC"/>
<circle cx="382.0" cy="1565.5" r="8.8" fill="#CC66CC"/>
<circle cx="410.5" cy="1577.0" r="8.8" fill="#CC66CC"/>
<circle cx="439.5" cy="1592.5" r="8.8" fill="#CC66CC"/>
<circle cx="467.5" cy="1628.5" r="8.8" fill="#CC66CC"/>
<circle cx="496.0" cy="1626.5" r="8.8" fill="#CC66CC"/>
<circle cx="524.0" cy="1637.0" r="8.8" fill="#CC66CC"/>
<circle cx="541.5" cy="1602.0" r="8.8" fill="#CC66CC"/>
<circle cx="556.0" cy="1616.5" r="8.8" fill="#CC66CC"/>
<circle cx="570.5" cy="1635.0" r="8.8" fill="#CC66CC"/>
<circle cx="585.0" cy="1651.0" r="8.8" fill="#CC66CC"/>
<circle cx="600.0" cy="1657.0" r="8.8" fill="#CC66CC"/>
<circle cx="640.5" cy="1661.5" r="8.8" fill="#CC66CC"/>
<circle cx="688.0" cy="1617.5" r="8.8" fill="#CC66CC"/>
<circle cx="734.5" cy="1596.5" r="8.8" fill="#CC66CC"/>
<circle cx="781.5" cy="1596.5" r="8.8" fill="#CC66CC"/>
<circle cx="829.0" cy="1612.5" r="8.8" fill="#CC66CC"/>
<circle cx="872.0" cy="1614.0" r="8.8" fill="#CC66CC"/>
<circle cx="914.5" cy="1568.0" r="8.8" fill="#CC66CC"/>
<circle cx="956.1" cy="1574.9" r="8.8" fill="#CC66CC"/>
<circle cx="998.0" cy="1555.3" r="8.8" fill="#CC66CC"/>
<circle cx="1040.1" cy="1528.1" r="8.8" fill="#CC66CC"/>
<circle cx="1068.4" cy="1525.4" r="8.8" fill="#CC66CC"/>
<circle cx="1090.9" cy="1534.8" r="8.8" fill="#CC66CC"/>
<circle cx="1113.5" cy="1546.5" r="8.8" fill="#CC66CC"/>
<circle cx="1135.7" cy="1498.8" r="8.8" fill="#CC66CC"/>
<circle cx="1158.2" cy="1545.6" r="8.8" fill="#CC66CC"/>
<circle cx="1181.3" cy="1522.5" r="8.8" fill="#CC66CC"/>
<circle cx="1205.0" cy="1532.7" r="8.8" fill="#CC66CC"/>
<circle cx="1228.4" cy="1558.2" r="8.8" fill="#CC66CC"/>
<circle cx="1251.8" cy="1536.5" r="8.8" fill="#CC66CC"/>
<circle cx="1275.3" cy="1543.5" r="8.8" fill="#CC66CC"/>
<circle cx="1296.2" cy="1520.6" r="8.8" fill="#CC66CC"/>
<circle cx="1315.7" cy="1544.1" r="8.8" fill="#CC66CC"/>
<circle cx="1335.2" cy="1540.8" r="8.8" fill="#CC66CC"/>
<circle cx="1355.0" cy="1524.0" r="8.8" fill="#CC66CC"/>
<circle cx="1375.2" cy="1526.7" r="8.8" fill="#CC66CC"/>
<circle cx="1397.4" cy="1552.6" r="8.8" fill="#CC66CC"/>
<circle cx="1421.6" cy="1526.7" r="8.8" fill="#CC66CC"/>
<circle cx="1445.1" cy="1585.5" r="8.8" fill="#CC66CC"/>
<circle cx="1468.6" cy="1550.9" r="8.8" fill="#CC66CC"/>
<circle cx="1491.8" cy="1556.9" r="8.8" fill="#CC66CC"/>
<circle cx="1515.7" cy="1551.9" r="8.8" fill="#CC66CC"/>
<circle cx="1538.6" cy="1567.7" r="8.8" fill="#CC66CC"/>
<path d="M540.5 1509.0 L413.5 1395.3" fill="none" stroke="#CC66CC" stroke-width="3.9" stroke-linecap="round"/>
<path d="M408.2 1390.7 L428.7 1395.7 L429.0 1397.9 L420.3 1399.1 L417.9 1401.7 L417.7 1410.5 L415.5 1410.4 Z" fill="#CC66CC" stroke="#CC66CC" stroke-width="1.8" stroke-linejoin="round"/>
<path d="M1047.6 1440.0 L802.4 1536.1" fill="none" stroke="#CC66CC" stroke-width="3.9" stroke-linecap="round"/>
<path d="M795.9 1538.6 L809.6 1522.6 L811.7 1523.3 L808.9 1531.6 L810.2 1535.0 L817.9 1539.1 L816.9 1541.1 Z" fill="#CC66CC" stroke="#CC66CC" stroke-width="1.8" stroke-linejoin="round"/>
<polyline points="280.0,1921.2 288.8,1946.2 295.0,1937.5 297.5,1906.2 299.0,1951.2 300.5,1920.0 302.5,1957.5 304.2,1922.5 306.2,1893.8 307.5,1948.8 309.0,1913.8 310.5,1935.0 312.0,1907.5 313.8,1887.0 314.8,1940.0 316.2,1898.8 317.5,1943.8 319.0,1917.5 320.0,1946.2 321.5,1915.0 323.0,1935.0 324.5,1918.8 326.2,1913.8 328.0,1930.0 330.0,1916.2 332.5,1953.8 335.5,1918.8 337.5,1916.2 341.2,1958.8 342.5,1928.8 345.0,1935.0 347.5,1970.0 350.0,1986.2 352.5,1945.0 355.8,1922.5 358.0,1975.0 361.2,1952.5 365.0,1956.2 368.0,1958.8 370.8,1968.8 372.5,1946.2 375.0,1962.5 377.5,1947.5 381.2,1958.8 383.8,1945.0 387.0,1956.2 390.0,1920.0 392.5,1930.0 396.2,1930.0 398.8,1931.2 405.0,1926.2 407.0,1940.0 409.5,1920.0 411.2,1947.5 413.8,1941.2 416.8,1996.2 419.2,1928.0 421.2,1946.2 436.2,2001.8 448.8,1962.0 461.2,1955.0 470.0,1942.5 482.5,1968.8 487.0,1988.8 491.2,1967.5 496.2,1958.8 500.0,1931.2 507.5,1955.0 511.2,1946.2 516.2,1966.2 520.5,1945.0 525.0,1955.0 528.8,1973.8 532.5,1946.2 537.0,1980.8 550.5,1942.5 557.5,1947.0 563.8,1948.8 577.5,1962.0 595.0,1948.8 611.2,1956.2 630.0,1982.5 647.5,1941.2 693.0,2012.0 696.2,1955.0 700.0,1976.2 705.0,1977.0 708.2,1991.2 712.5,1983.2 715.8,1995.5 723.8,1943.8 731.8,1973.8 735.8,1943.2 743.8,1951.2 748.0,1952.0 751.2,1960.0 755.5,1957.0 763.2,2006.2 767.0,1913.8 771.2,2026.2 775.0,2027.5 778.8,2036.2 783.2,2008.8 784.5,2032.5 787.0,2031.2 788.8,1978.8 792.0,1956.2 793.0,1986.2 795.8,1940.0 797.5,1977.5 800.0,1897.5 801.5,1975.0 803.8,1934.5 810.0,1966.2 814.5,1950.8 820.0,1970.0 825.0,2010.0 830.5,2031.2 835.0,1976.2 845.8,1938.0 859.2,1930.8 871.2,1974.2 884.5,1972.5 897.5,1996.8 911.2,1987.5 923.2,1969.5 945.2,1982.7 968.0,1968.1 990.8,1875.4 1006.6,1902.3 1009.5,1915.5 1013.3,1945.3 1016.3,1936.0 1020.1,1945.3 1024.2,1938.9 1031.5,1900.3 1035.3,1917.8 1039.6,1915.5 1046.1,1884.2 1049.3,1919.9 1052.8,1923.4 1056.3,1885.7 1060.1,1933.9 1065.1,1917.0 1070.9,1903.8 1074.7,1910.2 1078.5,1908.2 1082.0,1911.7 1089.4,1903.8 1090.2,1892.1 1092.3,1914.0 1094.3,1924.3 1096.1,1892.1 1099.6,1915.5 1101.9,1871.6 1104.0,1915.5 1106.9,1892.1 1110.4,1949.1 1120.1,1884.8 1124.4,1889.2 1129.4,1930.7 1142.0,1878.9 1147.8,1872.5 1153.7,1875.4 1161.0,1899.4 1168.3,1883.3 1173.3,1882.7 1180.0,1959.4 1187.3,1884.2 1193.2,1885.7 1199.0,1882.7 1206.3,1935.1 1217.1,1925.7 1226.8,1879.5 1235.6,1881.9 1246.7,1899.4 1256.9,1868.7 1267.1,1894.4 1277.1,1888.6 1282.9,1898.5 1286.7,1888.6 1292.6,1908.2 1298.4,1914.0 1302.9,1891.1 1311.7,1937.9 1316.1,1943.2 1319.0,1885.3 1323.4,1933.5 1324.9,1888.2 1328.7,1870.1 1331.6,1891.1 1334.5,1892.6 1335.7,1876.5 1339.5,1911.6 1341.5,1883.8 1343.9,1895.5 1348.2,1885.3 1352.0,1875.0 1355.0,1885.8 1360.5,1859.5 1362.9,1879.4 1365.8,1864.8 1368.7,1914.5 1373.1,1848.7 1375.4,1920.4 1377.5,1891.1 1379.5,1847.8 1382.5,1885.3 1385.4,1850.2 1387.7,1892.6 1390.1,1849.6 1393.0,1882.3 1395.9,1843.7 1400.0,1889.6 1409.6,1827.4 1415.5,1826.8 1421.3,1838.5 1425.7,1877.1 1431.0,1818.0 1437.4,1858.9 1446.2,1845.8 1455.0,1859.5 1463.7,1836.1 1472.5,1865.7 1481.3,1857.5 1490.1,1844.9 1498.8,1850.2 1507.6,1836.1 1516.4,1856.6 1525.1,1861.3 1533.9,1839.4 1541.2,1850.2 1550.0,1855.4 1556.7,1878.8 1563.2,1849.6 1570.5,1844.9 1577.2,1844.9 1582.2,1850.2 1589.5,1882.3 1596.8,1858.4 1605.6,1908.7 1613.7,1877.1 1621.6,1888.8 1630.4,1858.4 1639.2,1846.7 1647.4,1898.4 1655.3,1879.4 1664.3,1846.7 1672.8,1884.7 1681.6,1864.2" fill="none" stroke="#0F6BD3" stroke-width="4.2" stroke-linejoin="round" stroke-linecap="round" stroke-linejoin="miter"/>
<polyline points="319.0,2246.0 350.5,2310.0 363.0,2286.0 395.0,2325.0 409.0,2338.5 436.5,2351.5 452.5,2328.5 479.0,2349.0 494.0,2332.5 527.5,2316.5 539.0,2329.0 567.5,2321.0 585.0,2322.0 612.5,2300.0 626.0,2285.0 670.0,2261.0 704.0,2304.0 713.0,2269.0 742.5,2258.5 757.5,2244.0 790.0,2221.5 812.5,2246.0 854.5,2157.0 892.5,2200.0 914.0,2232.5 919.0,2246.5 937.0,2183.5 944.4,2251.1 968.9,2222.2 993.9,2285.6 1007.8,2221.7 1016.7,2216.7 1032.2,2152.2 1061.1,2262.2 1089.4,2191.1 1101.1,2223.3 1123.3,2122.2 1135.0,2216.7 1153.9,2198.3 1187.2,2244.4 1215.0,2234.4 1230.6,2238.9 1242.8,2171.7 1250.0,2208.3 1265.0,2228.9 1277.8,2208.9 1290.0,2243.9 1301.7,2255.6 1328.9,2176.1 1386.1,2157.8 1416.7,2180.0 1476.1,2192.8 1503.9,2190.6 1587.8,2163.9 1644.4,2193.3 1677.2,2241.7" fill="none" stroke="#1885D0" stroke-width="3.8" stroke-linejoin="round" stroke-linecap="round" />
<polyline points="281.2,2532.5 285.0,2512.5 290.0,2517.5 294.5,2527.5 293.0,2507.0 297.5,2498.8 301.2,2480.5 307.5,2504.5 317.5,2507.5 310.8,2573.2 327.0,2501.2 325.0,2542.5 331.2,2510.0 333.8,2522.5 336.2,2510.8 348.8,2517.0 360.5,2507.0 367.5,2521.8 372.0,2493.8 381.2,2481.2 383.8,2624.5 392.5,2506.2 402.5,2599.2 405.0,2506.2 413.8,2516.2 407.0,2476.2 420.0,2475.0 423.8,2468.8 428.8,2476.2 433.2,2509.5 438.0,2495.5 445.0,2517.5 447.5,2547.5 456.2,2578.8 460.0,2622.5 465.5,2605.8 466.2,2635.5 475.5,2618.8 478.0,2637.5 482.5,2612.5 489.5,2618.0 503.8,2590.0 508.0,2626.2 515.5,2610.5 516.2,2661.2 522.5,2646.2 525.0,2665.0 531.2,2641.2 552.5,2654.2 575.0,2654.5 604.0,2659.0 628.0,2656.0 652.0,2670.0 680.0,2658.5 710.5,2654.5 748.5,2668.5 783.5,2664.5 819.0,2637.0 854.5,2660.0 876.5,2650.0 880.0,2625.0 892.0,2651.0 913.0,2637.0 930.0,2657.5 941.5,2642.5 955.6,2645.0 960.0,2603.3 974.4,2608.3 974.4,2556.1 983.3,2575.6 984.4,2560.6 991.1,2576.1 1002.2,2576.7 1012.2,2584.4 1023.9,2574.4 1037.2,2580.6 1056.1,2575.6 1077.8,2585.6 1088.9,2560.6 1106.7,2587.8 1125.0,2582.8 1134.4,2570.6 1142.2,2585.6 1143.9,2600.0 1148.3,2570.0 1155.6,2553.9 1160.6,2521.7 1166.7,2537.2 1177.2,2489.4 1188.9,2531.7 1193.9,2515.0 1234.4,2511.7 1261.1,2501.1 1286.1,2527.2 1308.3,2578.3 1318.3,2550.6 1327.2,2576.1 1334.4,2547.8 1340.0,2557.8 1347.2,2557.8 1360.6,2592.2 1372.8,2606.7 1402.8,2571.1 1431.7,2585.6 1459.4,2591.7 1487.2,2586.7 1503.9,2602.8 1516.1,2561.7 1526.1,2571.7 1538.9,2568.3 1546.7,2550.6 1561.1,2557.8 1575.0,2551.7 1584.4,2535.6 1600.0,2537.2 1612.2,2515.6 1622.2,2546.1 1631.7,2515.0 1645.6,2537.2 1656.7,2541.1 1665.0,2538.3 1669.4,2515.0" fill="none" stroke="#0A7878" stroke-width="3.8" stroke-linejoin="round" stroke-linecap="round" />
<path d="M288.0 2817.5 C298.7 2826.7 296.0 2825.0 320.0 2845.0 C344.0 2865.0 333.3 2856.7 360.0 2877.5 C386.7 2898.3 373.3 2888.3 400.0 2907.5 C426.7 2926.7 413.3 2917.8 440.0 2935.0 C466.7 2952.2 453.3 2944.7 480.0 2959.0 C506.7 2973.3 493.3 2966.8 520.0 2978.0 C546.7 2989.2 533.3 2984.7 560.0 2992.5 C586.7 3000.3 573.3 2996.7 600.0 3001.5 C626.7 3006.3 613.3 3004.5 640.0 3007.0 C666.7 3009.5 653.3 3008.5 680.0 3009.0 C706.7 3009.5 690.0 3009.0 720.0 3008.5 C750.0 3008.0 736.7 3008.0 770.0 3007.5 C803.3 3007.0 786.7 3006.8 820.0 3007.0 C853.3 3007.2 836.7 3006.7 870.0 3008.0 C903.3 3009.3 878.1 3008.1 920.0 3011.0 C961.9 3013.9 951.9 3013.1 995.6 3016.7 C1039.3 3020.3 1015.9 3019.5 1051.1 3021.7 C1086.3 3023.9 1064.1 3023.3 1101.1 3023.3 C1138.1 3023.3 1123.3 3023.7 1162.2 3021.7 C1201.1 3019.7 1180.8 3020.7 1217.8 3017.2 C1254.8 3013.7 1236.3 3015.0 1273.3 3011.1 C1310.3 3007.2 1291.9 3008.6 1328.9 3005.6 C1365.9 3002.6 1347.4 3003.7 1384.4 3002.2 C1421.4 3000.7 1402.9 3000.9 1440.0 3001.1 C1477.1 3001.3 1458.6 3001.1 1495.6 3002.8 C1532.6 3004.5 1514.1 3003.5 1551.1 3006.1 C1588.1 3008.7 1564.1 3007.6 1606.7 3010.6 C1649.3 3013.6 1654.8 3013.5 1678.9 3015.0" fill="none" stroke="#AB812C" stroke-width="3.8" stroke-linecap="round" stroke-linejoin="round"/>
<polyline points="288.0,3023.5 297.5,3059.0 308.0,3047.0 318.5,3052.5 329.0,3048.5 338.5,3040.0 348.0,3023.5 358.0,3028.5 368.0,3042.5 378.0,3032.5 388.0,2998.5 398.5,2986.0 408.0,3013.5 418.0,2987.5 428.5,2948.0 438.5,2948.0 448.5,2961.0 458.5,2969.0 468.5,2968.0 478.5,2996.5 488.5,2970.0 498.5,2954.0 508.5,2946.0 518.5,2954.0 528.5,2948.5 538.5,2950.0 548.5,2942.5 558.5,2926.5 568.5,2912.5 578.5,2916.0 588.5,2918.5 598.5,2925.0 608.5,2932.5 618.5,2924.0 628.5,2942.5 638.5,2951.5 648.5,2929.0 658.5,2912.0 668.5,2926.0 678.5,2911.5 688.5,2896.0 698.5,2900.5 708.5,2902.5 718.5,2893.5 728.5,2893.5 738.5,2891.5 748.5,2903.5 758.5,2906.0 768.5,2920.5 778.5,2910.0 788.5,2893.5 798.5,2899.5 808.5,2883.5 818.5,2887.5 828.5,2884.0 838.5,2879.5 848.5,2883.0 858.5,2883.5 868.5,2892.5 878.5,2914.5 888.5,2911.5 898.5,2905.5 908.5,2902.5 918.5,2892.0 928.5,2899.0 940.0,2909.0 950.0,2904.4 969.4,2885.0 980.0,2892.8 990.0,2888.9 1000.0,2890.0 1009.4,2887.8 1020.0,2880.0 1030.0,2885.0 1040.0,2889.4 1049.4,2897.8 1059.4,2878.9 1069.4,2879.4 1079.4,2875.0 1089.4,2875.6 1100.0,2880.6 1110.6,2891.1 1120.6,2901.1 1130.6,2907.8 1140.0,2906.1 1150.0,2912.8 1160.0,2896.7 1170.6,2913.3 1180.6,2898.9 1190.6,2887.8 1200.0,2888.3 1210.6,2879.4 1220.6,2884.4 1230.6,2875.0 1240.6,2870.0 1250.6,2859.4 1260.6,2860.0 1270.6,2850.6 1280.6,2846.1 1290.6,2887.2 1301.1,2882.8 1311.1,2866.1 1321.1,2885.0 1331.7,2895.0 1341.7,2897.8 1351.1,2890.6 1361.7,2862.2 1371.7,2858.3 1381.7,2862.2 1391.7,2867.2 1401.7,2861.1 1411.7,2862.2 1421.7,2872.2 1431.7,2871.1 1441.7,2858.3 1451.7,2869.4 1461.7,2864.4 1472.2,2858.9 1481.7,2843.3 1491.7,2866.1 1501.7,2873.3 1511.7,2873.3 1521.7,2867.8 1531.7,2873.3 1541.7,2857.2 1551.7,2862.8 1561.7,2848.9 1571.7,2851.1 1581.7,2863.3 1591.7,2867.2 1601.1,2837.8 1611.1,2840.6 1621.1,2847.2 1631.7,2853.9 1641.7,2860.0 1651.7,2864.4 1661.7,2867.8 1671.7,2873.3 1678.9,2873.3" fill="none" stroke="#056937" stroke-width="3.8" stroke-linejoin="round" stroke-linecap="round" />
<path d="M330.1 3273.6 C332.5 3269.1 332.5 3268.4 337.3 3260.2 C342.1 3252.0 340.6 3254.8 344.6 3248.9 C348.6 3243.0 346.7 3245.2 349.4 3242.5 C352.1 3239.8 350.5 3240.6 352.6 3240.9 C354.7 3241.2 353.6 3240.1 355.8 3243.3 C358.0 3246.5 356.9 3243.9 359.1 3250.6 C361.3 3257.3 360.2 3254.3 362.3 3263.4 C364.4 3272.5 363.4 3267.2 365.5 3277.9 C367.6 3288.6 366.6 3283.8 368.7 3295.6 C370.8 3307.4 369.8 3301.5 371.9 3313.3 C374.0 3325.1 373.0 3320.3 375.1 3331.0 C377.2 3341.7 375.9 3337.6 378.3 3345.4 C380.7 3353.2 379.4 3350.1 382.4 3354.3 C385.4 3358.5 383.5 3356.8 387.2 3358.0 C390.9 3359.2 388.8 3358.9 393.6 3358.0 C398.4 3357.1 396.3 3357.9 401.7 3355.4 C407.1 3352.9 405.2 3354.5 409.7 3350.6 C414.2 3346.7 412.1 3349.3 415.3 3343.8 C418.5 3338.3 417.2 3341.2 419.4 3334.2 C421.6 3327.2 420.5 3329.9 421.8 3322.9 C423.1 3315.9 422.1 3318.1 423.4 3313.3 C424.7 3308.5 423.4 3310.7 425.8 3308.5 C428.2 3306.3 427.1 3306.7 430.6 3306.8 C434.1 3306.9 432.4 3306.7 436.2 3308.8 C440.0 3310.9 437.9 3310.0 441.9 3313.0 C445.9 3316.0 444.3 3314.0 448.3 3317.8 C452.3 3321.6 450.7 3319.6 453.9 3324.5 C457.1 3329.4 455.8 3326.2 458.0 3332.6 C460.2 3339.0 459.3 3335.8 460.4 3343.8 C461.5 3351.8 460.7 3349.2 461.2 3356.7 C461.7 3364.2 460.7 3361.2 462.0 3366.3 C463.3 3371.4 461.7 3368.0 465.2 3372.0 C468.7 3376.0 467.3 3374.4 472.4 3378.4 C477.5 3382.4 475.1 3380.6 480.5 3384.0 C485.9 3387.4 483.1 3384.7 488.5 3388.5 C493.9 3392.3 491.0 3390.9 496.6 3395.3 C502.2 3399.7 499.5 3399.1 505.4 3401.7 C511.3 3404.3 508.0 3402.7 514.2 3403.0 C520.4 3403.3 515.3 3403.5 523.9 3402.7 C532.5 3401.9 524.6 3402.2 540.0 3400.5 C555.4 3398.8 543.3 3400.0 570.0 3397.5 C596.7 3395.0 590.0 3396.0 620.0 3393.0 C650.0 3390.0 640.0 3390.5 660.0 3388.5 C680.0 3386.5 666.7 3386.8 680.0 3387.0 C693.3 3387.2 683.3 3386.3 700.0 3389.0 C716.7 3391.7 714.1 3391.8 730.0 3395.0 C745.9 3398.2 727.2 3394.5 747.7 3398.6 C768.2 3402.7 762.4 3401.6 791.6 3407.4 C820.8 3413.2 806.2 3410.4 835.4 3416.1 C864.6 3421.8 858.1 3420.7 879.3 3424.5 C900.5 3428.3 869.8 3423.9 899.0 3427.5 C928.2 3431.1 922.4 3430.6 967.0 3435.4 C1011.6 3440.2 988.9 3437.9 1032.8 3442.0 C1076.7 3446.1 1056.2 3444.3 1098.6 3447.7 C1141.0 3451.1 1123.5 3449.8 1160.0 3452.1 C1196.5 3454.4 1174.7 3452.9 1208.0 3454.7 C1241.3 3456.5 1219.7 3455.4 1260.0 3457.4 C1300.3 3459.4 1275.6 3458.4 1328.9 3460.6 C1382.2 3462.8 1355.7 3461.8 1420.0 3464.0 C1484.3 3466.2 1461.7 3465.3 1521.7 3467.2 C1581.7 3469.1 1549.1 3468.1 1600.0 3469.6 C1650.9 3471.1 1649.6 3471.0 1674.4 3471.7" fill="none" stroke="#753906" stroke-width="4.7" stroke-linecap="round" stroke-linejoin="round"/>
<path d="M277.7 3479.0 V2.0 H1681.4 V3479.0 M277.7 56.6 H1681.4 M1119.8 2.0 V56.6" fill="none" stroke="#000" stroke-width="4.6" stroke-linecap="square"/>
<line x1="275.4" y1="3479.0" x2="1683.7" y2="3479.0" stroke="#000" stroke-width="4.6"/>
<line x1="278.0" y1="3479.0" x2="278.0" y2="3503.6" stroke="#000" stroke-width="4.4" stroke-linecap="round"/>
<line x1="298.0" y1="3479.0" x2="298.0" y2="3491.6" stroke="#000" stroke-width="3.4" stroke-linecap="round"/>
<line x1="318.1" y1="3479.0" x2="318.1" y2="3491.6" stroke="#000" stroke-width="3.4" stroke-linecap="round"/>
<line x1="338.1" y1="3479.0" x2="338.1" y2="3491.6" stroke="#000" stroke-width="3.4" stroke-linecap="round"/>
<line x1="358.2" y1="3479.0" x2="358.2" y2="3491.6" stroke="#000" stroke-width="3.4" stroke-linecap="round"/>
<line x1="378.2" y1="3479.0" x2="378.2" y2="3491.6" stroke="#000" stroke-width="3.4" stroke-linecap="round"/>
<line x1="398.3" y1="3479.0" x2="398.3" y2="3491.6" stroke="#000" stroke-width="3.4" stroke-linecap="round"/>
<line x1="418.3" y1="3479.0" x2="418.3" y2="3491.6" stroke="#000" stroke-width="3.4" stroke-linecap="round"/>
<line x1="438.3" y1="3479.0" x2="438.3" y2="3491.6" stroke="#000" stroke-width="3.4" stroke-linecap="round"/>
<line x1="458.4" y1="3479.0" x2="458.4" y2="3491.6" stroke="#000" stroke-width="3.4" stroke-linecap="round"/>
<line x1="478.4" y1="3479.0" x2="478.4" y2="3503.6" stroke="#000" stroke-width="4.4" stroke-linecap="round"/>
<line x1="498.5" y1="3479.0" x2="498.5" y2="3491.6" stroke="#000" stroke-width="3.4" stroke-linecap="round"/>
<line x1="518.5" y1="3479.0" x2="518.5" y2="3491.6" stroke="#000" stroke-width="3.4" stroke-linecap="round"/>
<line x1="538.6" y1="3479.0" x2="538.6" y2="3491.6" stroke="#000" stroke-width="3.4" stroke-linecap="round"/>
<line x1="558.6" y1="3479.0" x2="558.6" y2="3491.6" stroke="#000" stroke-width="3.4" stroke-linecap="round"/>
<line x1="578.6" y1="3479.0" x2="578.6" y2="3491.6" stroke="#000" stroke-width="3.4" stroke-linecap="round"/>
<line x1="598.7" y1="3479.0" x2="598.7" y2="3491.6" stroke="#000" stroke-width="3.4" stroke-linecap="round"/>
<line x1="618.7" y1="3479.0" x2="618.7" y2="3491.6" stroke="#000" stroke-width="3.4" stroke-linecap="round"/>
<line x1="638.8" y1="3479.0" x2="638.8" y2="3491.6" stroke="#000" stroke-width="3.4" stroke-linecap="round"/>
<line x1="658.8" y1="3479.0" x2="658.8" y2="3491.6" stroke="#000" stroke-width="3.4" stroke-linecap="round"/>
<line x1="678.9" y1="3479.0" x2="678.9" y2="3503.6" stroke="#000" stroke-width="4.4" stroke-linecap="round"/>
<line x1="698.9" y1="3479.0" x2="698.9" y2="3491.6" stroke="#000" stroke-width="3.4" stroke-linecap="round"/>
<line x1="718.9" y1="3479.0" x2="718.9" y2="3491.6" stroke="#000" stroke-width="3.4" stroke-linecap="round"/>
<line x1="739.0" y1="3479.0" x2="739.0" y2="3491.6" stroke="#000" stroke-width="3.4" stroke-linecap="round"/>
<line x1="759.0" y1="3479.0" x2="759.0" y2="3491.6" stroke="#000" stroke-width="3.4" stroke-linecap="round"/>
<line x1="779.1" y1="3479.0" x2="779.1" y2="3491.6" stroke="#000" stroke-width="3.4" stroke-linecap="round"/>
<line x1="799.1" y1="3479.0" x2="799.1" y2="3491.6" stroke="#000" stroke-width="3.4" stroke-linecap="round"/>
<line x1="819.2" y1="3479.0" x2="819.2" y2="3491.6" stroke="#000" stroke-width="3.4" stroke-linecap="round"/>
<line x1="839.2" y1="3479.0" x2="839.2" y2="3491.6" stroke="#000" stroke-width="3.4" stroke-linecap="round"/>
<line x1="859.2" y1="3479.0" x2="859.2" y2="3491.6" stroke="#000" stroke-width="3.4" stroke-linecap="round"/>
<line x1="879.3" y1="3479.0" x2="879.3" y2="3503.6" stroke="#000" stroke-width="4.4" stroke-linecap="round"/>
<line x1="899.3" y1="3479.0" x2="899.3" y2="3491.6" stroke="#000" stroke-width="3.4" stroke-linecap="round"/>
<line x1="919.4" y1="3479.0" x2="919.4" y2="3491.6" stroke="#000" stroke-width="3.4" stroke-linecap="round"/>
<line x1="939.4" y1="3479.0" x2="939.4" y2="3491.6" stroke="#000" stroke-width="3.4" stroke-linecap="round"/>
<line x1="959.5" y1="3479.0" x2="959.5" y2="3491.6" stroke="#000" stroke-width="3.4" stroke-linecap="round"/>
<line x1="979.5" y1="3479.0" x2="979.5" y2="3491.6" stroke="#000" stroke-width="3.4" stroke-linecap="round"/>
<line x1="999.5" y1="3479.0" x2="999.5" y2="3491.6" stroke="#000" stroke-width="3.4" stroke-linecap="round"/>
<line x1="1019.6" y1="3479.0" x2="1019.6" y2="3491.6" stroke="#000" stroke-width="3.4" stroke-linecap="round"/>
<line x1="1039.6" y1="3479.0" x2="1039.6" y2="3491.6" stroke="#000" stroke-width="3.4" stroke-linecap="round"/>
<line x1="1059.7" y1="3479.0" x2="1059.7" y2="3491.6" stroke="#000" stroke-width="3.4" stroke-linecap="round"/>
<line x1="1079.7" y1="3479.0" x2="1079.7" y2="3503.6" stroke="#000" stroke-width="4.4" stroke-linecap="round"/>
<line x1="1099.8" y1="3479.0" x2="1099.8" y2="3491.6" stroke="#000" stroke-width="3.4" stroke-linecap="round"/>
<line x1="1119.8" y1="3479.0" x2="1119.8" y2="3491.6" stroke="#000" stroke-width="3.4" stroke-linecap="round"/>
<line x1="1139.8" y1="3479.0" x2="1139.8" y2="3491.6" stroke="#000" stroke-width="3.4" stroke-linecap="round"/>
<line x1="1159.9" y1="3479.0" x2="1159.9" y2="3491.6" stroke="#000" stroke-width="3.4" stroke-linecap="round"/>
<line x1="1179.9" y1="3479.0" x2="1179.9" y2="3491.6" stroke="#000" stroke-width="3.4" stroke-linecap="round"/>
<line x1="1200.0" y1="3479.0" x2="1200.0" y2="3491.6" stroke="#000" stroke-width="3.4" stroke-linecap="round"/>
<line x1="1220.0" y1="3479.0" x2="1220.0" y2="3491.6" stroke="#000" stroke-width="3.4" stroke-linecap="round"/>
<line x1="1240.1" y1="3479.0" x2="1240.1" y2="3491.6" stroke="#000" stroke-width="3.4" stroke-linecap="round"/>
<line x1="1260.1" y1="3479.0" x2="1260.1" y2="3491.6" stroke="#000" stroke-width="3.4" stroke-linecap="round"/>
<line x1="1280.2" y1="3479.0" x2="1280.2" y2="3503.6" stroke="#000" stroke-width="4.4" stroke-linecap="round"/>
<line x1="1300.2" y1="3479.0" x2="1300.2" y2="3491.6" stroke="#000" stroke-width="3.4" stroke-linecap="round"/>
<line x1="1320.2" y1="3479.0" x2="1320.2" y2="3491.6" stroke="#000" stroke-width="3.4" stroke-linecap="round"/>
<line x1="1340.3" y1="3479.0" x2="1340.3" y2="3491.6" stroke="#000" stroke-width="3.4" stroke-linecap="round"/>
<line x1="1360.3" y1="3479.0" x2="1360.3" y2="3491.6" stroke="#000" stroke-width="3.4" stroke-linecap="round"/>
<line x1="1380.4" y1="3479.0" x2="1380.4" y2="3491.6" stroke="#000" stroke-width="3.4" stroke-linecap="round"/>
<line x1="1400.4" y1="3479.0" x2="1400.4" y2="3491.6" stroke="#000" stroke-width="3.4" stroke-linecap="round"/>
<line x1="1420.5" y1="3479.0" x2="1420.5" y2="3491.6" stroke="#000" stroke-width="3.4" stroke-linecap="round"/>
<line x1="1440.5" y1="3479.0" x2="1440.5" y2="3491.6" stroke="#000" stroke-width="3.4" stroke-linecap="round"/>
<line x1="1460.5" y1="3479.0" x2="1460.5" y2="3491.6" stroke="#000" stroke-width="3.4" stroke-linecap="round"/>
<line x1="1480.6" y1="3479.0" x2="1480.6" y2="3503.6" stroke="#000" stroke-width="4.4" stroke-linecap="round"/>
<line x1="1500.6" y1="3479.0" x2="1500.6" y2="3491.6" stroke="#000" stroke-width="3.4" stroke-linecap="round"/>
<line x1="1520.7" y1="3479.0" x2="1520.7" y2="3491.6" stroke="#000" stroke-width="3.4" stroke-linecap="round"/>
<line x1="1540.7" y1="3479.0" x2="1540.7" y2="3491.6" stroke="#000" stroke-width="3.4" stroke-linecap="round"/>
<line x1="1560.8" y1="3479.0" x2="1560.8" y2="3491.6" stroke="#000" stroke-width="3.4" stroke-linecap="round"/>
<line x1="1580.8" y1="3479.0" x2="1580.8" y2="3491.6" stroke="#000" stroke-width="3.4" stroke-linecap="round"/>
<line x1="1600.8" y1="3479.0" x2="1600.8" y2="3491.6" stroke="#000" stroke-width="3.4" stroke-linecap="round"/>
<line x1="1620.9" y1="3479.0" x2="1620.9" y2="3491.6" stroke="#000" stroke-width="3.4" stroke-linecap="round"/>
<line x1="1640.9" y1="3479.0" x2="1640.9" y2="3491.6" stroke="#000" stroke-width="3.4" stroke-linecap="round"/>
<line x1="1661.0" y1="3479.0" x2="1661.0" y2="3491.6" stroke="#000" stroke-width="3.4" stroke-linecap="round"/>
<line x1="1681.0" y1="3479.0" x2="1681.0" y2="3503.6" stroke="#000" stroke-width="4.4" stroke-linecap="round"/>
<text x="278.0" y="3553.8" font-size="41.5" text-anchor="middle" fill="#000" >0</text>
<text x="478.4" y="3553.8" font-size="41.5" text-anchor="middle" fill="#000" >1</text>
<text x="678.9" y="3553.8" font-size="41.5" text-anchor="middle" fill="#000" >2</text>
<text x="879.3" y="3553.8" font-size="41.5" text-anchor="middle" fill="#000" >3</text>
<text x="1079.7" y="3553.8" font-size="41.5" text-anchor="middle" fill="#000" >4</text>
<text x="1280.2" y="3553.8" font-size="41.5" text-anchor="middle" fill="#000" >5</text>
<text x="1480.6" y="3553.8" font-size="41.5" text-anchor="middle" fill="#000" >6</text>
<text x="1681.0" y="3553.8" font-size="41.5" text-anchor="middle" fill="#000" >7</text>
<text x="979.4" y="3621.6" font-size="47" text-anchor="middle" fill="#000" >Age (ka)</text>
<line x1="277.7" y1="1411.8" x2="277.7" y2="1679.6" stroke="#CC66CC" stroke-width="4.8"/>
<line x1="1681.4" y1="1411.8" x2="1681.4" y2="1679.6" stroke="#9966CC" stroke-width="4.8"/>
<line x1="277.7" y1="2817.7" x2="277.7" y2="3085.5" stroke="#056937" stroke-width="4.8"/>
<line x1="1681.4" y1="2817.7" x2="1681.4" y2="3085.5" stroke="#AB812C" stroke-width="4.8"/>
<line x1="277.7" y1="3212.8" x2="277.7" y2="3481.3" stroke="#753906" stroke-width="4.8"/>
<line x1="256.2" y1="105.2" x2="277.7" y2="105.2" stroke="#000" stroke-width="4.5" stroke-linecap="round"/>
<text x="245.4" y="120.1" font-size="41.5" text-anchor="end" fill="#000" >-10.5</text>
<line x1="256.2" y1="170.9" x2="277.7" y2="170.9" stroke="#000" stroke-width="4.5" stroke-linecap="round"/>
<text x="245.4" y="185.8" font-size="41.5" text-anchor="end" fill="#000" >-11</text>
<line x1="256.2" y1="236.6" x2="277.7" y2="236.6" stroke="#000" stroke-width="4.5" stroke-linecap="round"/>
<text x="245.4" y="251.5" font-size="41.5" text-anchor="end" fill="#000" >-11.5</text>
<line x1="256.2" y1="302.4" x2="277.7" y2="302.4" stroke="#000" stroke-width="4.5" stroke-linecap="round"/>
<text x="245.4" y="317.3" font-size="41.5" text-anchor="end" fill="#000" >-12</text>
<line x1="256.2" y1="368.1" x2="277.7" y2="368.1" stroke="#000" stroke-width="4.5" stroke-linecap="round"/>
<text x="245.4" y="383.0" font-size="41.5" text-anchor="end" fill="#000" >-12.5</text>
<line x1="1681.4" y1="438.7" x2="1703.4" y2="438.7" stroke="#000" stroke-width="4.5" stroke-linecap="round"/>
<text x="1713.3" y="453.6" font-size="41.5" text-anchor="start" fill="#000" >0.08</text>
<line x1="1681.4" y1="526.6" x2="1703.4" y2="526.6" stroke="#000" stroke-width="4.5" stroke-linecap="round"/>
<text x="1713.3" y="541.5" font-size="41.5" text-anchor="start" fill="#000" >0.06</text>
<line x1="1681.4" y1="614.6" x2="1703.4" y2="614.6" stroke="#000" stroke-width="4.5" stroke-linecap="round"/>
<text x="1713.3" y="629.5" font-size="41.5" text-anchor="start" fill="#000" >0.04</text>
<line x1="1681.4" y1="702.6" x2="1703.4" y2="702.6" stroke="#000" stroke-width="4.5" stroke-linecap="round"/>
<text x="1713.3" y="717.5" font-size="41.5" text-anchor="start" fill="#000" >0.02</text>
<line x1="256.2" y1="737.8" x2="277.7" y2="737.8" stroke="#000" stroke-width="4.5" stroke-linecap="round"/>
<text x="245.4" y="752.7" font-size="41.5" text-anchor="end" fill="#000" >75</text>
<line x1="256.2" y1="825.6" x2="277.7" y2="825.6" stroke="#000" stroke-width="4.5" stroke-linecap="round"/>
<text x="245.4" y="840.5" font-size="41.5" text-anchor="end" fill="#000" >70</text>
<line x1="256.2" y1="913.4" x2="277.7" y2="913.4" stroke="#000" stroke-width="4.5" stroke-linecap="round"/>
<text x="245.4" y="928.3" font-size="41.5" text-anchor="end" fill="#000" >65</text>
<line x1="256.2" y1="1001.2" x2="277.7" y2="1001.2" stroke="#000" stroke-width="4.5" stroke-linecap="round"/>
<text x="245.4" y="1016.1" font-size="41.5" text-anchor="end" fill="#000" >60</text>
<line x1="1681.4" y1="1041.5" x2="1703.4" y2="1041.5" stroke="#000" stroke-width="4.5" stroke-linecap="round"/>
<text x="1713.3" y="1056.4" font-size="41.5" text-anchor="start" fill="#000" >-3</text>
<line x1="1681.4" y1="1107.1" x2="1703.4" y2="1107.1" stroke="#000" stroke-width="4.5" stroke-linecap="round"/>
<text x="1713.3" y="1122.0" font-size="41.5" text-anchor="start" fill="#000" >-2.4</text>
<line x1="1681.4" y1="1172.8" x2="1703.4" y2="1172.8" stroke="#000" stroke-width="4.5" stroke-linecap="round"/>
<text x="1713.3" y="1187.7" font-size="41.5" text-anchor="start" fill="#000" >-1.8</text>
<line x1="1681.4" y1="1238.5" x2="1703.4" y2="1238.5" stroke="#000" stroke-width="4.5" stroke-linecap="round"/>
<text x="1713.3" y="1253.4" font-size="41.5" text-anchor="start" fill="#000" >-1.2</text>
<line x1="1681.4" y1="1304.1" x2="1703.4" y2="1304.1" stroke="#000" stroke-width="4.5" stroke-linecap="round"/>
<text x="1713.3" y="1319.0" font-size="41.5" text-anchor="start" fill="#000" >-0.6</text>
<line x1="256.2" y1="1414.1" x2="277.7" y2="1414.1" stroke="#CC66CC" stroke-width="4.5" stroke-linecap="round"/>
<text x="245.4" y="1429.0" font-size="41.5" text-anchor="end" fill="#CC66CC" >75</text>
<line x1="256.2" y1="1480.0" x2="277.7" y2="1480.0" stroke="#CC66CC" stroke-width="4.5" stroke-linecap="round"/>
<text x="245.4" y="1494.9" font-size="41.5" text-anchor="end" fill="#CC66CC" >74</text>
<line x1="256.2" y1="1545.8" x2="277.7" y2="1545.8" stroke="#CC66CC" stroke-width="4.5" stroke-linecap="round"/>
<text x="245.4" y="1560.7" font-size="41.5" text-anchor="end" fill="#CC66CC" >73</text>
<line x1="256.2" y1="1611.6" x2="277.7" y2="1611.6" stroke="#CC66CC" stroke-width="4.5" stroke-linecap="round"/>
<text x="245.4" y="1626.5" font-size="41.5" text-anchor="end" fill="#CC66CC" >72</text>
<line x1="256.2" y1="1677.4" x2="277.7" y2="1677.4" stroke="#CC66CC" stroke-width="4.5" stroke-linecap="round"/>
<text x="245.4" y="1692.3" font-size="41.5" text-anchor="end" fill="#CC66CC" >71</text>
<line x1="1681.4" y1="1414.3" x2="1703.4" y2="1414.3" stroke="#9966CC" stroke-width="4.5" stroke-linecap="round"/>
<text x="1713.3" y="1429.2" font-size="41.5" text-anchor="start" fill="#9966CC" >87</text>
<line x1="1681.4" y1="1480.0" x2="1703.4" y2="1480.0" stroke="#9966CC" stroke-width="4.5" stroke-linecap="round"/>
<text x="1713.3" y="1494.9" font-size="41.5" text-anchor="start" fill="#9966CC" >86</text>
<line x1="1681.4" y1="1545.7" x2="1703.4" y2="1545.7" stroke="#9966CC" stroke-width="4.5" stroke-linecap="round"/>
<text x="1713.3" y="1560.6" font-size="41.5" text-anchor="start" fill="#9966CC" >85</text>
<line x1="1681.4" y1="1611.4" x2="1703.4" y2="1611.4" stroke="#9966CC" stroke-width="4.5" stroke-linecap="round"/>
<text x="1713.3" y="1626.3" font-size="41.5" text-anchor="start" fill="#9966CC" >84</text>
<line x1="1681.4" y1="1677.1" x2="1703.4" y2="1677.1" stroke="#9966CC" stroke-width="4.5" stroke-linecap="round"/>
<text x="1713.3" y="1692.0" font-size="41.5" text-anchor="start" fill="#9966CC" >83</text>
<line x1="256.2" y1="1791.5" x2="277.7" y2="1791.5" stroke="#000" stroke-width="4.5" stroke-linecap="round"/>
<text x="245.4" y="1806.4" font-size="41.5" text-anchor="end" fill="#000" >-9.6</text>
<line x1="256.2" y1="1857.5" x2="277.7" y2="1857.5" stroke="#000" stroke-width="4.5" stroke-linecap="round"/>
<text x="245.4" y="1872.4" font-size="41.5" text-anchor="end" fill="#000" >-8.8</text>
<line x1="256.2" y1="1923.5" x2="277.7" y2="1923.5" stroke="#000" stroke-width="4.5" stroke-linecap="round"/>
<text x="245.4" y="1938.4" font-size="41.5" text-anchor="end" fill="#000" >-8</text>
<line x1="256.2" y1="1989.5" x2="277.7" y2="1989.5" stroke="#000" stroke-width="4.5" stroke-linecap="round"/>
<text x="245.4" y="2004.4" font-size="41.5" text-anchor="end" fill="#000" >-7.2</text>
<line x1="256.2" y1="2055.5" x2="277.7" y2="2055.5" stroke="#000" stroke-width="4.5" stroke-linecap="round"/>
<text x="245.4" y="2070.4" font-size="41.5" text-anchor="end" fill="#000" >-6.4</text>
<line x1="1681.4" y1="2112.2" x2="1703.4" y2="2112.2" stroke="#000" stroke-width="4.5" stroke-linecap="round"/>
<text x="1713.3" y="2127.1" font-size="41.5" text-anchor="start" fill="#000" >6</text>
<line x1="1681.4" y1="2200.2" x2="1703.4" y2="2200.2" stroke="#000" stroke-width="4.5" stroke-linecap="round"/>
<text x="1713.3" y="2215.1" font-size="41.5" text-anchor="start" fill="#000" >4</text>
<line x1="1681.4" y1="2288.2" x2="1703.4" y2="2288.2" stroke="#000" stroke-width="4.5" stroke-linecap="round"/>
<text x="1713.3" y="2303.1" font-size="41.5" text-anchor="start" fill="#000" >2</text>
<line x1="1681.4" y1="2376.2" x2="1703.4" y2="2376.2" stroke="#000" stroke-width="4.5" stroke-linecap="round"/>
<text x="1713.3" y="2391.1" font-size="41.5" text-anchor="start" fill="#000" >0</text>
<line x1="256.2" y1="2442.0" x2="277.7" y2="2442.0" stroke="#000" stroke-width="4.5" stroke-linecap="round"/>
<text x="245.4" y="2456.9" font-size="41.5" text-anchor="end" fill="#000" >100</text>
<line x1="256.2" y1="2529.9" x2="277.7" y2="2529.9" stroke="#000" stroke-width="4.5" stroke-linecap="round"/>
<text x="245.4" y="2544.8" font-size="41.5" text-anchor="end" fill="#000" >80</text>
<line x1="256.2" y1="2617.9" x2="277.7" y2="2617.9" stroke="#000" stroke-width="4.5" stroke-linecap="round"/>
<text x="245.4" y="2632.8" font-size="41.5" text-anchor="end" fill="#000" >60</text>
<line x1="256.2" y1="2705.8" x2="277.7" y2="2705.8" stroke="#000" stroke-width="4.5" stroke-linecap="round"/>
<text x="245.4" y="2720.7" font-size="41.5" text-anchor="end" fill="#000" >40</text>
<line x1="256.2" y1="2820.0" x2="277.7" y2="2820.0" stroke="#056937" stroke-width="4.5" stroke-linecap="round"/>
<text x="245.4" y="2834.9" font-size="41.5" text-anchor="end" fill="#056937" >90</text>
<line x1="256.2" y1="2907.8" x2="277.7" y2="2907.8" stroke="#056937" stroke-width="4.5" stroke-linecap="round"/>
<text x="245.4" y="2922.7" font-size="41.5" text-anchor="end" fill="#056937" >85</text>
<line x1="256.2" y1="2995.5" x2="277.7" y2="2995.5" stroke="#056937" stroke-width="4.5" stroke-linecap="round"/>
<text x="245.4" y="3010.4" font-size="41.5" text-anchor="end" fill="#056937" >80</text>
<line x1="256.2" y1="3083.2" x2="277.7" y2="3083.2" stroke="#056937" stroke-width="4.5" stroke-linecap="round"/>
<text x="245.4" y="3098.1" font-size="41.5" text-anchor="end" fill="#056937" >75</text>
<line x1="1681.4" y1="2820.0" x2="1703.4" y2="2820.0" stroke="#AB812C" stroke-width="4.5" stroke-linecap="round"/>
<text x="1713.3" y="2834.9" font-size="41.5" text-anchor="start" fill="#AB812C" >60</text>
<line x1="1681.4" y1="2907.8" x2="1703.4" y2="2907.8" stroke="#AB812C" stroke-width="4.5" stroke-linecap="round"/>
<text x="1713.3" y="2922.7" font-size="41.5" text-anchor="start" fill="#AB812C" >40</text>
<line x1="1681.4" y1="2995.5" x2="1703.4" y2="2995.5" stroke="#AB812C" stroke-width="4.5" stroke-linecap="round"/>
<text x="1713.3" y="3010.4" font-size="41.5" text-anchor="start" fill="#AB812C" >20</text>
<line x1="1681.4" y1="3083.2" x2="1703.4" y2="3083.2" stroke="#AB812C" stroke-width="4.5" stroke-linecap="round"/>
<text x="1713.3" y="3098.1" font-size="41.5" text-anchor="start" fill="#AB812C" >0</text>
<line x1="256.2" y1="3215.2" x2="277.7" y2="3215.2" stroke="#753906" stroke-width="4.5" stroke-linecap="round"/>
<text x="245.4" y="3230.1" font-size="41.5" text-anchor="end" fill="#753906" >80</text>
<line x1="256.2" y1="3281.0" x2="277.7" y2="3281.0" stroke="#753906" stroke-width="4.5" stroke-linecap="round"/>
<text x="245.4" y="3295.9" font-size="41.5" text-anchor="end" fill="#753906" >60</text>
<line x1="256.2" y1="3346.8" x2="277.7" y2="3346.8" stroke="#753906" stroke-width="4.5" stroke-linecap="round"/>
<text x="245.4" y="3361.7" font-size="41.5" text-anchor="end" fill="#753906" >40</text>
<line x1="256.2" y1="3412.6" x2="277.7" y2="3412.6" stroke="#753906" stroke-width="4.5" stroke-linecap="round"/>
<text x="245.4" y="3427.5" font-size="41.5" text-anchor="end" fill="#753906" >20</text>
<line x1="256.2" y1="3478.5" x2="277.7" y2="3478.5" stroke="#753906" stroke-width="4.5" stroke-linecap="round"/>
<text x="245.4" y="3493.4" font-size="41.5" text-anchor="end" fill="#753906" >0</text>
<line x1="1681.4" y1="3215.0" x2="1703.4" y2="3215.0" stroke="#000" stroke-width="4.5" stroke-linecap="round"/>
<text x="1713.3" y="3229.9" font-size="41.5" text-anchor="start" fill="#000" >10</text>
<line x1="1681.4" y1="3267.7" x2="1703.4" y2="3267.7" stroke="#000" stroke-width="4.5" stroke-linecap="round"/>
<text x="1713.3" y="3282.6" font-size="41.5" text-anchor="start" fill="#000" >8</text>
<line x1="1681.4" y1="3320.4" x2="1703.4" y2="3320.4" stroke="#000" stroke-width="4.5" stroke-linecap="round"/>
<text x="1713.3" y="3335.3" font-size="41.5" text-anchor="start" fill="#000" >6</text>
<line x1="1681.4" y1="3373.1" x2="1703.4" y2="3373.1" stroke="#000" stroke-width="4.5" stroke-linecap="round"/>
<text x="1713.3" y="3388.0" font-size="41.5" text-anchor="start" fill="#000" >4</text>
<line x1="1681.4" y1="3425.8" x2="1703.4" y2="3425.8" stroke="#000" stroke-width="4.5" stroke-linecap="round"/>
<text x="1713.3" y="3440.7" font-size="41.5" text-anchor="start" fill="#000" >2</text>
<line x1="1681.4" y1="3478.5" x2="1703.4" y2="3478.5" stroke="#000" stroke-width="4.5" stroke-linecap="round"/>
<text x="1713.3" y="3493.4" font-size="41.5" text-anchor="start" fill="#000" >0</text>
<text transform="translate(50.8,236.0) rotate(-90)" font-size="46.5" text-anchor="middle" fill="#000">Bulk <tspan font-size="57">&#949;</tspan><tspan dy="12" font-size="26">Nd</tspan><tspan dy="-12" font-size="46.5">&#8203;</tspan></text>
<text transform="translate(110.5,236.5) rotate(-90)" font-size="46.5" text-anchor="middle" fill="#000">in Core TY</text>
<text transform="translate(1867.1,570.6) rotate(-90)" font-size="46.5" text-anchor="middle" fill="#000">Kao/(Ill+Chl)</text>
<text transform="translate(1919.9,569.0) rotate(-90)" font-size="46.5" text-anchor="middle" fill="#000">in Core TY</text>
<text transform="translate(99.8,872.0) rotate(-90)" font-size="46.5" text-anchor="middle" fill="#000">Bulk CIA<tspan dx="7" dy="11" font-size="27">C</tspan></text>
<text transform="translate(159.0,875.3) rotate(-90)" font-size="46.5" text-anchor="middle" fill="#000">in Core TY</text>
<text transform="translate(1857.6,1173.0) rotate(-90)" font-size="46.5" text-anchor="middle" fill="#000">Clay &#948;<tspan dy="-16" font-size="26">7</tspan><tspan dy="16" font-size="46.5">&#8203;</tspan>Li (&#8240;)</text>
<text transform="translate(1910.0,1173.0) rotate(-90)" font-size="46.5" text-anchor="middle" fill="#000">in Core CM97</text>
<text transform="translate(106.8,1544.5) rotate(-90)" font-size="46.5" text-anchor="middle" fill="#000">Clay CIA</text>
<text transform="translate(158.3,1546.0) rotate(-90)" font-size="46.5" text-anchor="middle" fill="#000">in Core 337PC</text>
<text transform="translate(1832.7,1544.8) rotate(-90)" font-size="46.5" text-anchor="middle" fill="#000">Clay CIA</text>
<text transform="translate(1885.0,1550.0) rotate(-90)" font-size="46.5" text-anchor="middle" fill="#000">in Core ZK001</text>
<text transform="translate(81.6,1923.4) rotate(-90)" font-size="46.5" text-anchor="middle" fill="#000">Dongge Cave &#948;<tspan dy="-16" font-size="26">18</tspan><tspan dy="16" font-size="46.5">&#8203;</tspan>O</text>
<text transform="translate(132.7,1923.0) rotate(-90)" font-size="46.5" text-anchor="middle" fill="#000">(VPBD, &#8240;)</text>
<text transform="translate(1810.0,2250.7) rotate(-90)" font-size="46.5" text-anchor="middle" fill="#000">BAN<tspan dy="11.7" font-size="25">15</tspan><tspan dy="-11.7" font-size="46.5">&#8203;</tspan> in the</text>
<text transform="translate(1869.2,2244.4) rotate(-90)" font-size="46.5" text-anchor="middle" fill="#000">Dajiuhu peatland</text>
<text transform="translate(83.8,2574.0) rotate(-90)" font-size="46.5" text-anchor="middle" fill="#000">&lt;63 &#956;m contents (%)</text>
<text transform="translate(136.0,2574.0) rotate(-90)" font-size="46.5" text-anchor="middle" fill="#000">in TCQH Lake</text>
<text transform="translate(106.8,2953.8) rotate(-90)" font-size="46.5" text-anchor="middle" fill="#000">Tree pollan</text>
<text transform="translate(162.3,2951.0) rotate(-90)" font-size="46.5" text-anchor="middle" fill="#000">(%)</text>
<text transform="translate(1832.2,2951.0) rotate(-90)" font-size="46.5" text-anchor="middle" fill="#000">Soil erosion rates</text>
<text transform="translate(1886.0,2950.7) rotate(-90)" font-size="46.5" text-anchor="middle" fill="#000">(t/ha/a)</text>
<text transform="translate(106.3,3346.0) rotate(-90)" font-size="46.5" text-anchor="middle" fill="#000">Population (million)</text>
<text transform="translate(159.6,3348.0) rotate(-90)" font-size="46.5" text-anchor="middle" fill="#000">Changjiang Basin</text>
<text transform="translate(1832.2,3347.0) rotate(-90)" font-size="46.5" text-anchor="middle" fill="#000">Human</text>
<text transform="translate(1885.0,3345.9) rotate(-90)" font-size="46.5" text-anchor="middle" fill="#000">impact index</text>
<text x="296.4" y="112.8" font-size="46.5" text-anchor="start" fill="#000" >(a)</text>
<text x="296.4" y="411.7" font-size="46.5" text-anchor="start" fill="#000" >(b)</text>
<text x="296.4" y="736.2" font-size="46.5" text-anchor="start" fill="#000" >(c)</text>
<text x="296.4" y="1044.7" font-size="46.5" text-anchor="start" fill="#000" >(d)</text>
<text x="296.4" y="1368.7" font-size="46.5" text-anchor="start" fill="#000" >(e)</text>
<text x="296.4" y="1799.7" font-size="46.5" text-anchor="start" fill="#000" >(f)</text>
<text x="296.4" y="2133.7" font-size="46.5" text-anchor="start" fill="#000" >(g)</text>
<text x="296.4" y="2414.7" font-size="46.5" text-anchor="start" fill="#000" >(h)</text>
<text x="296.4" y="2770.1" font-size="46.5" text-anchor="start" fill="#000" >(i)</text>
<text x="296.4" y="3160.6" font-size="46.5" text-anchor="start" fill="#000" >(j)</text>
<text x="673.8" y="42.0" font-size="39.2" text-anchor="middle" fill="#000" font-weight="bold" >Late Holocene</text>
<text x="1388.7" y="42.0" font-size="39.2" text-anchor="middle" fill="#000" font-weight="bold" >Middle Holocene</text>
<text x="734.9" y="130.5" font-size="39.2" text-anchor="middle" fill="#D2692F" font-weight="bold" >More contribution</text>
<text x="734.4" y="174.4" font-size="39.2" text-anchor="middle" fill="#D2692F" font-weight="bold" >from the upper basin</text>
<text x="1022.5" y="394.0" font-size="39.2" text-anchor="start" fill="#A46E36" font-weight="bold" >Core CM97</text>
<text x="541.0" y="771.5" font-size="39.2" text-anchor="start" fill="#CC3E6C" font-weight="bold" >Enhanced chemical weathering</text>
<text x="1373.5" y="1446.7" font-size="39.2" text-anchor="start" fill="#9966CC" font-weight="bold" >Pearl River</text>
<text x="666.5" y="1694.0" font-size="39.2" text-anchor="start" fill="#CC66CC" font-weight="bold" >Red River</text>
<text x="1423.0" y="1774.0" font-size="39.2" text-anchor="middle" fill="#0F6BD3" font-weight="bold" >ASM intensity</text>
<text x="541.0" y="1858.5" font-size="39.2" text-anchor="start" fill="#0F6BD3" font-weight="bold" >Stronger</text>
<text x="1419.4" y="2063.9" font-size="39.2" text-anchor="middle" fill="#1885D0" font-weight="bold" >Temperature</text>
<text x="1419.4" y="2107.8" font-size="39.2" text-anchor="middle" fill="#1885D0" font-weight="bold" >in the middle basin</text>
<text x="541.0" y="2200.0" font-size="39.2" text-anchor="start" fill="#1885D0" font-weight="bold" >Warmer</text>
<text x="1410.5" y="2416.0" font-size="39.2" text-anchor="middle" fill="#0A7878" font-weight="bold" >Precipitation</text>
<text x="1410.5" y="2457.8" font-size="39.2" text-anchor="middle" fill="#0A7878" font-weight="bold" >in the upper basin</text>
<text x="541.0" y="2490.0" font-size="39.2" text-anchor="start" fill="#0A7878" font-weight="bold" >Wetter</text>
<text x="1181.0" y="2783.9" font-size="39.2" text-anchor="start" fill="#056937" font-weight="bold" >Upper Changjiang Basin</text>
<text x="541.0" y="3201.5" font-size="39.2" text-anchor="start" fill="#753906" font-weight="bold" >Intensified human activities</text>
<path d="M508.0 188.1 L508.0 95.8" fill="none" stroke="#D2692F" stroke-width="3.9" stroke-linecap="round"/>
<path d="M508.0 88.8 L517.9 107.4 L516.5 109.1 L509.8 103.4 L506.2 103.4 L499.5 109.1 L498.1 107.4 Z" fill="#D2692F" stroke="#D2692F" stroke-width="1.8" stroke-linejoin="round"/>
<path d="M508.0 806.0 L508.0 715.5" fill="none" stroke="#CC3E6C" stroke-width="3.9" stroke-linecap="round"/>
<path d="M508.0 708.5 L517.9 727.1 L516.5 728.8 L509.8 723.1 L506.2 723.1 L499.5 728.8 L498.1 727.1 Z" fill="#CC3E6C" stroke="#CC3E6C" stroke-width="1.8" stroke-linejoin="round"/>
<path d="M508.0 1892.0 L508.0 1800.5" fill="none" stroke="#0F6BD3" stroke-width="3.9" stroke-linecap="round"/>
<path d="M508.0 1793.5 L517.9 1812.1 L516.5 1813.8 L509.8 1808.1 L506.2 1808.1 L499.5 1813.8 L498.1 1812.1 Z" fill="#0F6BD3" stroke="#0F6BD3" stroke-width="1.8" stroke-linejoin="round"/>
<path d="M508.0 2234.6 L508.0 2143.0" fill="none" stroke="#1885D0" stroke-width="3.9" stroke-linecap="round"/>
<path d="M508.0 2136.0 L517.9 2154.6 L516.5 2156.3 L509.8 2150.6 L506.2 2150.6 L499.5 2156.3 L498.1 2154.6 Z" fill="#1885D0" stroke="#1885D0" stroke-width="1.8" stroke-linejoin="round"/>
<path d="M508.0 2524.6 L508.0 2433.0" fill="none" stroke="#0A7878" stroke-width="3.9" stroke-linecap="round"/>
<path d="M508.0 2426.0 L517.9 2444.6 L516.5 2446.3 L509.8 2440.6 L506.2 2440.6 L499.5 2446.3 L498.1 2444.6 Z" fill="#0A7878" stroke="#0A7878" stroke-width="1.8" stroke-linejoin="round"/>
<path d="M508.0 3235.1 L508.0 3144.0" fill="none" stroke="#753906" stroke-width="3.9" stroke-linecap="round"/>
<path d="M508.0 3137.0 L517.9 3155.6 L516.5 3157.3 L509.8 3151.6 L506.2 3151.6 L499.5 3157.3 L498.1 3155.6 Z" fill="#753906" stroke="#753906" stroke-width="1.8" stroke-linejoin="round"/>
<path d="M1141.5 298.0 L1120.8 353.5" fill="none" stroke="#A46E36" stroke-width="3.9" stroke-linecap="round"/>
<path d="M1118.3 360.2 L1115.9 342.4 L1117.6 341.5 L1121.2 348.0 L1124.1 349.1 L1131.1 346.6 L1131.7 348.3 Z" fill="#A46E36" stroke="#A46E36" stroke-width="1.8" stroke-linejoin="round"/>
</svg>
</body></html>
